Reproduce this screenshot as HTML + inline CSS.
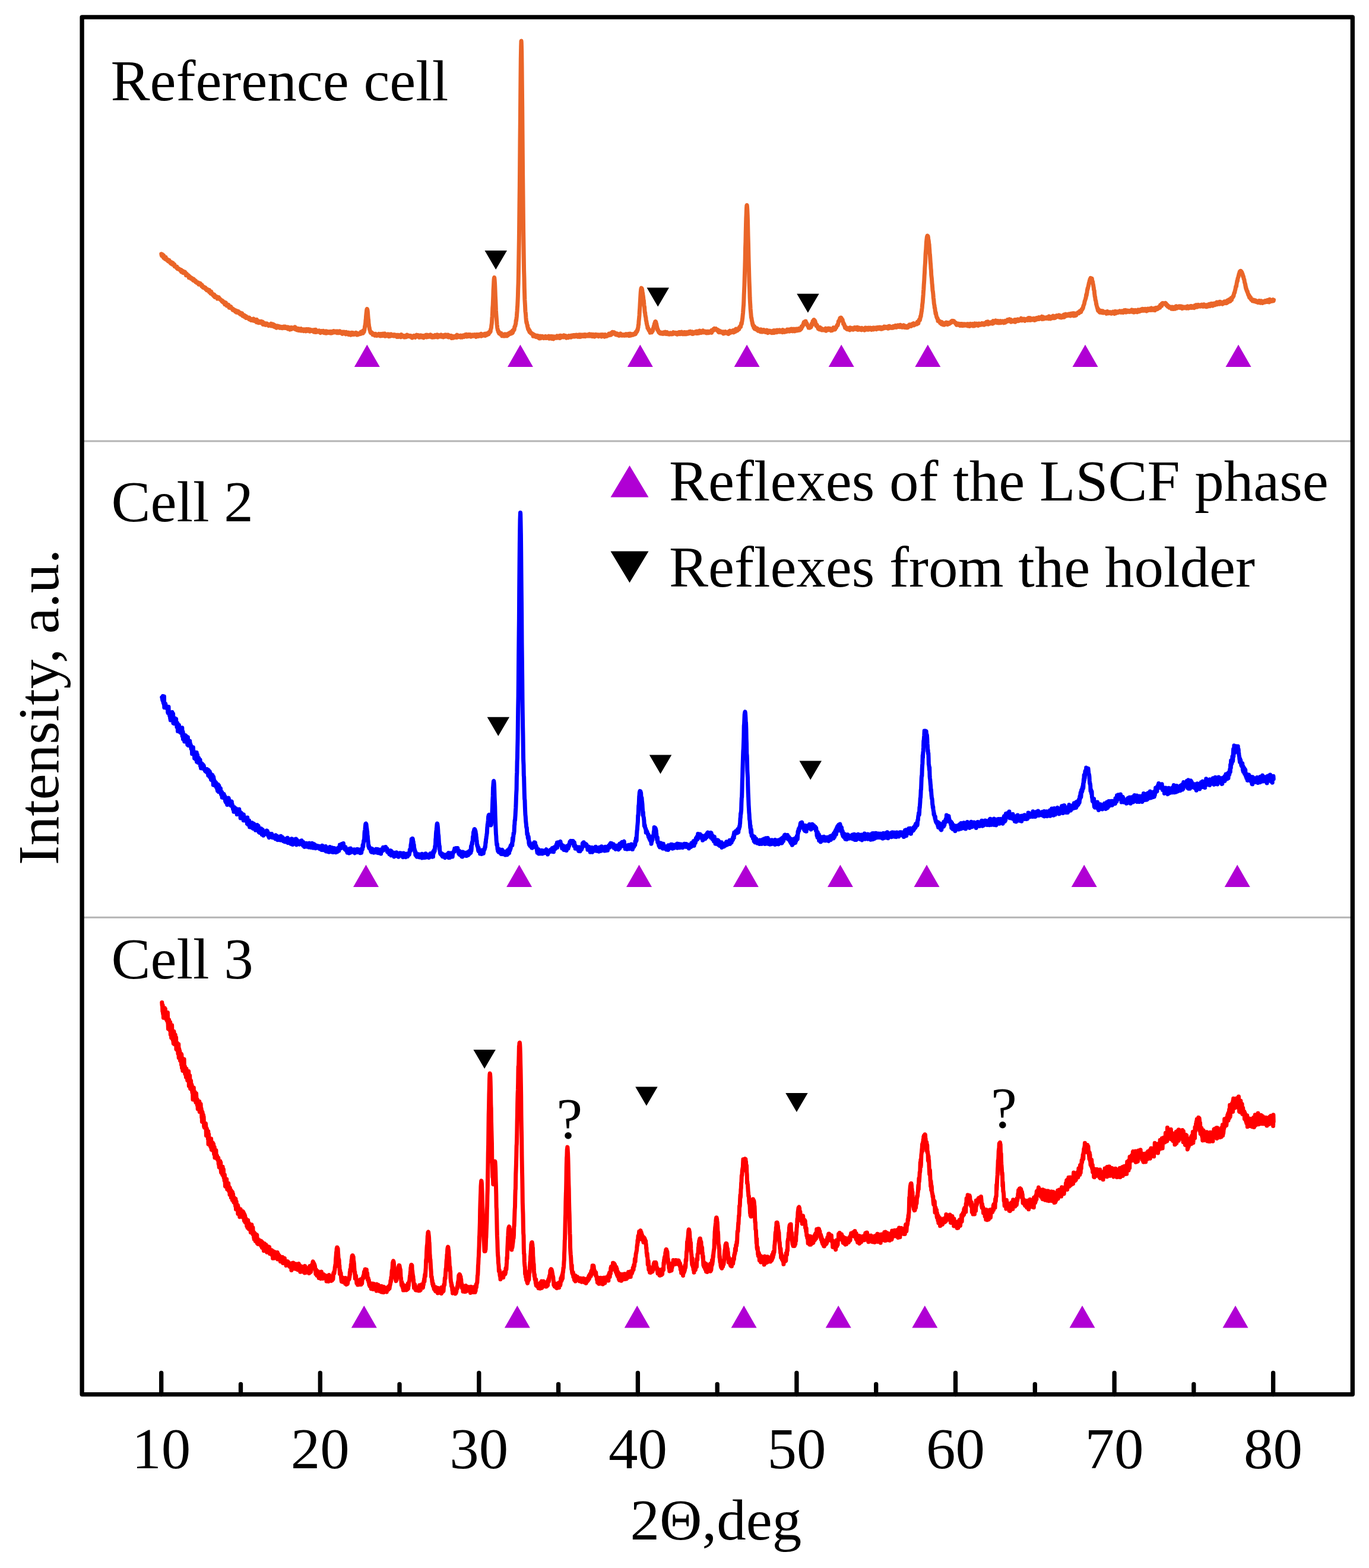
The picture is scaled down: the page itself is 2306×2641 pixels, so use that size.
<!DOCTYPE html>
<html lang="en"><head><meta charset="utf-8"><title>XRD patterns</title>
<style>
html,body{margin:0;padding:0;background:#fff}
body{width:2306px;height:2641px;overflow:hidden}
svg{display:block}
text{font-family:"Liberation Serif","Times New Roman",serif;font-size:99px;fill:#000}
.c{fill:none;stroke-linejoin:round;stroke-linecap:round}
</style></head><body>
<svg width="2306" height="2641" viewBox="0 0 2306 2641">
<rect width="2306" height="2641" fill="#fff"/>

<g stroke="#b4b4b4" stroke-width="3"><line x1="138.1" x2="2278.3" y1="742.9" y2="742.9"/><line x1="138.1" x2="2278.3" y1="1545.3" y2="1545.3"/></g>
<path class="c" transform="scale(.1)" stroke="#EA6528" stroke-width="70" d="M2718,4277l3,18 4,14 3,-8 3,-9 3,-2 4,-3 3,27 3,6 4,-24 3,19 3,22 4,-32 3,39 3,-1 3,0 4,-1 3,2 3,4 4,13 3,-25 3,-4 4,0 3,25 3,11 3,-15 4,14 3,1 3,12 4,-2 3,0 3,-9 4,6 3,15 3,-5 3,14 4,-17 3,19 3,-9 4,8 3,-18 3,26 4,-13 3,23 3,0 3,-13 4,24 3,3 3,5 4,-2 3,-13 3,20 4,-24 3,12 3,10 3,-17 4,30 3,-3 3,-5 4,-17 3,17 3,18 4,1 3,-13 3,-1 3,16 4,-9 3,-2 3,33 4,-12 3,6 3,-3 4,14 3,3 3,-9 3,0 4,3 3,16 3,-5 4,-11 3,28 3,-10 4,7 3,12 3,-6 3,5 4,-7 3,10 3,5 4,-2 3,-3 3,2 4,1 3,8 3,-5 3,12 4,-7 3,16 3,-6 4,-6 3,13 3,-13 4,34 3,-26 3,8 3,17 4,-17 3,-1 3,2 4,23 3,-20 3,30 4,-8 3,-5 3,15 3,-9 4,0 3,-7 3,0 4,19 3,-19 3,6 4,3 3,18 3,-11 3,14 4,27 3,-19 3,19 4,-13 3,-10 3,8 4,2 3,13 3,5 3,-2 4,-3 3,-1 3,6 4,-1 3,4 3,33 4,-11 3,-16 3,13 3,6 4,-1 3,-4 3,13 4,0 3,6 3,9 4,-14 3,10 3,-4 3,-2 4,6 3,10 3,-6 4,-1 3,5 3,11 4,15 3,1 3,-27 3,15 4,11 3,-7 3,5 4,-6 3,13 3,0 4,-5 3,16 3,8 3,-3 4,-14 3,17 3,7 4,6 3,3 3,0 4,-9 3,9 3,4 3,-4 4,4 3,-11 3,15 4,-5 3,5 3,20 4,-12 3,2 3,-6 3,-7 4,5 3,11 3,3 4,-14 3,14 3,9 4,-6 3,6 3,8 3,13 4,-6 3,14 3,-26 4,28 3,-11 3,14 4,12 3,-8 3,-2 3,14 4,-18 3,18 3,-4 4,3 3,-7 3,12 4,3 3,-1 3,6 3,-14 4,25 3,-9 3,8 4,-6 3,5 3,0 4,20 3,-17 3,3 3,8 4,-8 3,4 3,14 4,4 3,7 3,-1 4,-10 3,1 3,23 3,-30 4,26 3,8 3,7 4,5 3,0 3,11 4,-34 3,18 3,9 3,-23 4,17 3,22 3,-15 4,19 3,-1 3,8 4,-1 3,0 3,4 3,-12 4,28 3,-16 3,-3 4,15 3,-16 3,38 4,4 3,-8 3,-18 3,16 4,1 3,-5 3,5 4,10 3,-7 3,7 4,3 3,-11 3,12 3,1 4,22 3,-12 3,4 4,1 3,-1 3,3 4,0 3,-18 3,23 3,-5 4,6 3,-5 3,3 4,11 3,-2 3,7 4,4 3,0 3,4 3,-4 4,6 3,11 3,-5 4,10 3,-2 3,12 4,-17 3,15 3,8 3,-13 4,12 3,4 3,-2 4,13 3,-3 3,-3 4,13 3,-2 3,20 3,-34 4,20 3,0 3,4 4,-17 3,23 3,-4 4,16 3,-15 3,30 3,-15 4,-1 3,10 3,-15 4,7 3,19 3,-6 4,6 3,-20 3,11 3,-1 4,35 3,-15 3,16 4,-13 3,16 3,-14 4,3 3,6 3,4 3,-18 4,22 3,-7 3,4 4,7 3,1 3,5 4,13 3,3 3,8 3,-22 4,7 3,0 3,1 4,12 3,3 3,-6 4,4 3,13 3,-13 3,15 4,-9 3,6 3,16 4,-22 3,11 3,10 4,-9 3,14 3,10 3,-5 4,-12 3,-6 3,12 4,-5 3,0 3,17 4,2 3,-21 3,14 3,-3 4,19 3,-1 3,8 4,-7 3,7 3,4 4,-5 3,12 3,-25 3,30 4,-21 3,11 3,8 4,1 3,-13 3,16 4,-21 3,21 3,0 3,21 4,-16 3,-3 3,3 4,0 3,10 3,5 4,16 3,-27 3,21 3,-18 4,13 3,16 3,3 4,-1 3,-12 3,17 4,7 3,-27 3,10 3,8 4,4 3,2 3,-4 4,-3 3,13 3,-11 4,7 3,7 3,1 3,5 4,2 3,-1 3,10 4,-27 3,16 3,1 4,-2 3,3 3,6 3,-6 4,25 3,1 3,-22 4,16 3,0 3,-5 4,-2 3,8 3,-3 3,-5 4,15 3,-6 3,10 4,-23 3,6 3,-14 4,19 3,-7 3,18 3,5 4,-9 3,9 3,-15 4,-5 3,27 3,-3 4,-1 3,-10 3,15 3,-3 4,17 3,-43 3,12 4,22 3,0 3,-2 4,-4 3,-3 3,24 3,-4 4,-7 3,2 3,15 4,-26 3,0 3,11 4,-8 3,20 3,0 3,1 4,-8 3,-3 3,11 4,-23 3,6 3,7 4,-3 3,15 3,-10 3,20 4,-7 3,-14 3,-4 4,41 3,-14 3,2 4,-8 3,-3 3,23 3,-24 4,9 3,5 3,-8 4,4 3,1 3,2 4,21 3,-14 3,11 3,-18 4,4 3,0 3,-8 4,16 3,-13 3,3 4,13 3,3 3,-10 3,10 4,11 3,3 3,-5 4,-12 3,15 3,-15 4,0 3,12 3,-6 3,1 4,-13 3,5 3,6 4,1 3,0 3,-23 4,40 3,-14 3,-16 3,20 4,-12 3,-2 3,20 4,-27 3,3 3,2 4,4 3,29 3,-25 3,-4 4,14 3,7 3,7 4,-19 3,30 3,-16 4,-9 3,2 3,14 3,-3 4,-3 3,7 3,22 4,-6 3,-18 3,-1 4,18 3,-20 3,-6 3,9 4,-2 3,-1 3,13 4,-5 3,5 3,8 4,-8 3,-9 3,6 3,18 4,-19 3,-1 3,16 4,-13 3,0 3,11 4,-3 3,-5 3,1 3,15 4,-8 3,-11 3,3 4,19 3,-18 3,5 4,-1 3,-8 3,6 3,-12 4,7 3,14 3,-14 4,17 3,-13 3,3 4,-4 3,-10 3,20 3,4 4,-10 3,-3 3,-2 4,8 3,7 3,-1 4,-5 3,-2 3,2 3,-1 4,-8 3,32 3,-27 4,-1 3,25 3,-8 4,1 3,-9 3,6 3,9 4,14 3,-15 3,-4 4,6 3,-6 3,-7 4,-10 3,22 3,-19 3,26 4,-17 3,0 3,-8 4,1 3,3 3,10 4,-9 3,3 3,-4 3,10 4,-1 3,0 3,-15 4,3 3,-5 3,21 4,-28 3,37 3,-17 3,-3 4,10 3,-3 3,0 4,9 3,4 3,-9 4,22 3,-27 3,22 3,-4 4,-12 3,20 3,6 4,-28 3,22 3,-6 4,4 3,-19 3,23 3,6 4,-9 3,-9 3,3 4,7 3,-6 3,-12 4,2 3,-3 3,15 3,18 4,-5 3,-16 3,1 4,11 3,-2 3,6 4,-8 3,-8 3,10 3,12 4,-14 3,18 3,-29 4,6 3,6 3,-3 4,11 3,-6 3,4 3,8 4,-26 3,9 3,23 4,-24 3,-7 3,3 4,-3 3,10 3,4 3,0 4,4 3,-9 3,9 4,4 3,-26 3,5 4,14 3,-16 3,23 3,-17 4,0 3,8 3,22 4,-33 3,11 3,-6 4,14 3,-7 3,2 3,6 4,-6 3,3 3,5 4,-4 3,-2 3,-6 4,14 3,-3 3,-2 3,-5 4,2 3,-5 3,28 4,-12 3,14 3,-37 4,1 3,19 3,-4 3,-3 4,-1 3,4 3,-18 4,44 3,-25 3,1 4,12 3,-10 3,5 3,4 4,2 3,-2 3,6 4,1 3,-10 3,5 4,-10 3,14 3,-20 3,-1 4,7 3,13 3,-11 4,3 3,16 3,4 4,5 3,-9 3,-4 3,-2 4,-15 3,13 3,-3 4,12 3,-4 3,-14 4,7 3,9 3,-3 3,-8 4,16 3,-27 3,25 4,-13 3,-6 3,12 4,16 3,-27 3,15 3,2 4,-4 3,1 3,3 4,4 3,12 3,-36 4,24 3,6 3,-26 3,23 4,3 3,-14 3,6 4,-9 3,-6 3,6 4,-2 3,16 3,-16 3,13 4,2 3,3 3,-11 4,4 3,-13 3,-2 4,26 3,-5 3,-20 3,1 4,26 3,-14 3,8 4,3 3,-16 3,10 4,-21 3,11 3,8 3,5 4,-14 3,4 3,-14 4,17 3,-23 3,10 4,1 3,-8 3,3 3,3 4,13 3,-4 3,-2 4,0 3,1 3,-13 4,6 3,2 3,10 3,-4 4,2 3,-16 3,28 4,-22 3,-3 3,11 4,2 3,-4 3,16 3,-20 4,2 3,-9 3,27 4,-17 3,0 3,-14 4,10 3,3 3,9 3,6 4,2 3,-17 3,10 4,13 3,-8 3,3 4,5 3,-7 3,-3 3,21 4,-35 3,17 3,5 4,-5 3,0 3,-4 4,15 3,-28 3,7 3,-2 4,7 3,1 3,10 4,6 3,-18 3,9 4,20 3,-13 3,-23 3,24 4,-6 3,-1 3,4 4,5 3,-4 3,8 4,-6 3,6 3,-2 3,-14 4,-5 3,34 3,-27 4,-1 3,21 3,2 4,-12 3,15 3,-18 3,1 4,-9 3,34 3,-19 4,6 3,-24 3,21 4,-23 3,11 3,13 3,7 4,1 3,-17 3,-13 4,17 3,-9 3,12 4,-3 3,13 3,-12 3,-8 4,6 3,-8 3,-1 4,-1 3,3 3,-3 4,7 3,-15 3,11 3,11 4,-13 3,-2 3,29 4,-22 3,23 3,-18 4,7 3,4 3,-15 3,-1 4,9 3,-2 3,9 4,-13 3,-3 3,9 4,-11 3,-3 3,11 3,-8 4,-10 3,20 3,-12 4,-22 3,13 3,16 4,-12 3,-8 3,7 3,-11 4,2 3,5 3,-15 4,25 3,-43 3,3 4,21 3,-11 3,9 3,-20 4,-5 3,-17 3,-24 4,-34 3,-7 3,-19 4,-31 3,-44 3,-17 3,-49 4,-41 3,-27 3,-29 4,-19 3,-6 0,0 3,8 4,12 3,23 3,40 3,39 4,48 3,13 3,51 4,30 3,32 3,8 4,17 3,22 3,10 3,11 4,9 3,19 3,-4 4,6 3,12 3,-6 4,9 3,-15 3,18 3,2 4,-5 3,3 3,-1 4,22 3,-11 3,-4 4,2 3,-2 3,13 3,0 4,-8 3,2 3,11 4,-14 3,27 3,-13 4,-6 3,8 3,-19 3,23 4,-11 3,16 3,-1 4,-16 3,22 3,-17 4,0 3,13 3,-1 3,-15 4,8 3,-8 3,-3 4,3 3,10 3,-21 4,20 3,-10 3,5 3,15 4,-8 3,-8 3,21 4,-34 3,16 3,9 4,-23 3,18 3,-7 3,18 4,-8 3,-3 3,-21 4,12 3,19 3,-8 4,-16 3,5 3,-15 3,19 4,-11 3,-4 3,5 4,18 3,-22 3,-6 4,43 3,-25 3,1 3,-7 4,24 3,-4 3,1 4,-3 3,5 3,-4 4,-6 3,12 3,-7 3,-8 4,9 3,-23 3,21 4,-8 3,-9 3,21 4,14 3,-8 3,-7 3,-14 4,-6 3,10 3,-3 4,9 3,14 3,-9 4,-4 3,0 3,-20 3,22 4,-5 3,-9 3,6 4,-1 3,8 3,-11 4,17 3,-11 3,-4 3,19 4,-16 3,3 3,-10 4,23 3,-11 3,7 4,-8 3,6 3,-14 3,9 4,-7 3,10 3,11 4,-12 3,5 3,4 4,14 3,-8 3,-24 3,30 4,-30 3,1 3,17 4,13 3,-24 3,-4 4,8 3,4 3,12 3,-13 4,-5 3,-1 3,6 4,3 3,-14 3,8 4,9 3,15 3,-17 3,-26 4,17 3,10 3,-7 4,16 3,-13 3,8 4,1 3,-9 3,0 3,3 4,-7 3,12 3,-7 4,7 3,-10 3,26 4,-11 3,9 3,-21 3,3 4,8 3,-1 3,-1 4,5 3,-4 3,7 4,-17 3,14 3,-32 3,25 4,-6 3,-3 3,5 4,-1 3,4 3,-14 4,5 3,10 3,-9 3,1 4,10 3,-3 3,-7 4,-2 3,14 3,3 4,-1 3,-1 3,-7 3,-5 4,8 3,0 3,-5 4,9 3,20 3,-27 4,2 3,10 3,-14 3,4 4,-1 3,4 3,8 4,-3 3,-19 3,10 4,-7 3,12 3,-8 3,14 4,8 3,-22 3,4 4,5 3,-15 3,-8 4,18 3,-2 3,-22 3,17 4,-4 3,-2 3,7 4,-15 3,0 3,26 4,-6 3,-7 3,3 3,2 4,-3 3,23 3,-28 4,12 3,-16 3,18 4,11 3,-17 3,-6 3,-8 4,27 3,-17 3,9 4,6 3,-16 3,10 4,14 3,-21 3,6 3,3 4,-16 3,12 3,13 4,11 3,-29 3,9 4,3 3,-7 3,-3 3,3 4,-2 3,-5 3,5 4,1 3,-22 3,23 4,-4 3,2 3,-21 3,38 4,-20 3,-17 3,26 4,-5 3,-12 3,18 4,-8 3,-15 3,3 3,11 4,12 3,-21 3,19 4,-13 3,-8 3,20 4,-21 3,7 3,-19 3,18 4,12 3,-19 3,-2 4,31 3,-9 3,-13 4,7 3,20 3,-30 3,21 4,-4 3,-1 3,-4 4,8 3,-16 3,10 4,13 3,-15 3,3 3,7 4,-25 3,-5 3,34 4,-10 3,1 3,-10 4,5 3,7 3,-10 3,-5 4,-4 3,-7 3,-7 4,17 3,-1 3,26 4,-29 3,-6 3,30 3,-27 4,4 3,13 3,1 4,0 3,-3 3,-16 4,4 3,2 3,12 3,-9 4,14 3,-7 3,1 4,-25 3,25 3,-11 4,19 3,-10 3,10 3,-1 4,-12 3,-1 3,18 4,2 3,-21 3,-8 4,24 3,-24 3,14 3,-21 4,31 3,-7 3,-8 4,-10 3,-10 3,21 4,7 3,-5 3,-15 3,20 4,-5 3,-20 3,-1 4,7 3,22 3,-18 4,24 3,-5 3,-29 3,15 4,24 3,-21 3,8 4,-3 3,-6 3,-3 4,11 3,3 3,2 3,4 4,-18 3,3 3,18 4,-4 3,-20 3,10 4,32 3,-24 3,2 3,6 4,2 3,-19 3,7 4,22 3,-25 3,10 4,13 3,-16 3,-1 3,-9 4,0 3,18 3,-6 4,-5 3,-8 3,20 4,0 3,-17 3,-11 3,-3 4,32 3,0 3,-29 4,8 3,-22 3,12 4,28 3,-11 3,1 3,-12 4,-6 3,7 3,15 4,-7 3,3 3,0 4,-14 3,10 3,-10 3,-2 4,16 3,-18 3,29 4,-13 3,-16 3,8 4,-5 3,20 3,-4 3,-6 4,16 3,-17 3,-4 4,-7 3,-4 3,15 4,4 3,-10 3,3 3,-3 4,15 3,-15 3,8 4,-14 3,-7 3,-8 4,4 3,15 3,-15 3,21 4,-15 3,-15 3,21 4,-7 3,24 3,-12 4,-17 3,11 3,-15 3,-1 4,15 3,6 3,-10 4,16 3,-30 3,24 4,-3 3,-19 3,20 3,-8 4,14 3,-27 3,22 4,-10 3,17 3,7 4,-27 3,1 3,1 3,0 4,11 3,-16 3,-2 4,7 3,1 3,15 4,-20 3,0 3,13 3,0 4,-15 3,7 3,-10 4,22 3,-16 3,2 4,3 3,-5 3,10 3,9 4,-6 3,18 3,-20 4,-19 3,17 3,-6 4,15 3,-13 3,6 3,-18 4,6 3,8 3,-5 4,3 3,16 3,-29 4,0 3,25 3,-11 3,-9 4,11 3,5 3,-17 4,16 3,-11 3,15 4,-36 3,40 3,-20 3,13 4,-18 3,10 3,6 4,-10 3,-5 3,-4 4,0 3,16 3,-18 3,17 4,-7 3,-3 3,-5 4,3 3,-16 3,26 4,-10 3,17 3,-21 3,0 4,7 3,-4 3,-9 4,-10 3,11 3,0 4,12 3,-1 3,-20 3,16 4,-20 3,1 3,0 4,-8 3,14 3,4 4,-29 3,10 3,-8 3,1 4,-15 3,13 3,-12 4,-9 3,7 3,-38 4,-7 3,-8 3,-16 3,-34 4,-23 3,-27 3,-59 4,-50 3,-53 3,-88 4,-43 3,-78 3,-69 3,-109 4,-65 3,-66 3,-49 4,-26 1,-2 2,5 3,31 4,54 3,64 3,76 3,87 4,73 3,76 3,83 4,66 3,39 3,41 4,49 3,51 3,18 3,33 4,19 3,20 3,-3 4,15 3,16 3,-6 4,1 3,25 3,9 3,-20 4,17 3,2 3,1 4,-3 3,-2 3,-1 4,23 3,-8 3,8 3,-22 4,30 3,1 3,-5 4,20 3,-17 3,1 4,-10 3,4 3,13 3,0 4,10 3,-17 3,12 4,-13 3,8 3,-4 4,-16 3,30 3,-17 3,1 4,10 3,-14 3,2 4,-13 3,21 3,6 4,-13 3,15 3,2 3,-9 4,-12 3,9 3,-2 4,-7 3,8 3,-8 4,-19 3,8 3,2 3,-15 4,-4 3,14 3,2 4,-16 3,13 3,-16 4,-5 3,20 3,-10 3,-21 4,-1 3,15 3,-12 4,-3 3,-8 3,8 4,21 3,-42 3,28 3,-30 4,-8 3,15 3,-17 4,-7 3,6 3,1 4,-25 3,-24 3,-10 3,-2 4,-1 3,-19 3,-16 4,-8 3,-51 3,10 4,-31 3,-26 3,-26 3,-42 4,-48 3,-57 3,-35 4,-85 3,-72 3,-118 4,-104 3,-140 3,-181 3,-193 4,-246 3,-264 3,-293 4,-333 3,-353 3,-381 4,-377 3,-373 3,-354 3,-287 4,-204 3,-94 1,-4 2,33 4,142 3,246 3,309 4,376 3,395 3,372 3,362 4,365 3,312 3,283 4,259 3,209 3,201 4,128 3,161 3,99 3,105 4,65 3,55 3,75 4,26 3,28 3,52 4,43 3,28 3,18 3,-15 4,35 3,6 3,25 4,-9 3,37 3,6 4,21 3,9 3,-3 3,-10 4,29 3,-6 3,13 4,17 3,-26 3,21 4,-2 3,16 3,6 3,2 4,4 3,-9 3,5 4,8 3,6 3,-1 4,-6 3,9 3,7 3,-11 4,5 3,16 3,20 4,-19 3,-11 3,29 4,-9 3,-14 3,16 3,2 4,8 3,-18 3,22 4,-14 3,8 3,-13 4,26 3,-9 3,-10 3,14 4,4 3,4 3,0 4,-26 3,9 3,11 4,3 3,-13 3,24 3,-5 4,-21 3,6 3,25 4,-30 3,40 3,-4 4,-28 3,17 3,6 3,-24 4,-5 3,34 3,-17 4,-15 3,28 3,0 4,-7 3,-5 3,-9 3,-8 4,25 3,-3 3,-19 4,5 3,1 3,3 4,4 3,16 3,-15 3,11 4,-10 3,9 3,-12 4,11 3,-17 3,-10 4,28 3,-23 3,1 3,26 4,-18 3,4 3,2 4,2 3,5 3,-13 4,-7 3,20 3,-11 3,-4 4,12 3,1 3,-5 4,-22 3,42 3,-21 4,-14 3,21 3,8 3,-1 4,-7 3,1 3,-22 4,-3 3,35 3,-10 4,0 3,-18 3,33 3,-23 4,14 3,-23 3,-6 4,22 3,3 3,-17 4,34 3,-29 3,19 3,-4 4,-26 3,19 3,-14 4,10 3,-4 3,11 4,-18 3,13 3,1 3,3 4,-19 3,15 3,1 4,3 3,-32 3,1 4,0 3,15 3,-8 3,9 4,1 3,13 3,-1 4,-15 3,3 3,-17 4,12 3,3 3,-4 3,25 4,-42 3,15 3,5 4,8 3,-6 3,-21 4,6 3,14 3,-4 3,10 4,-6 3,-8 3,-2 4,11 3,-15 3,5 4,15 3,-16 3,9 3,-25 4,13 3,8 3,6 4,-6 3,2 3,-9 4,8 3,9 3,-17 3,-4 4,24 3,9 3,-4 4,-20 3,4 3,-2 4,10 3,2 3,-15 3,13 4,-2 3,11 3,-17 4,5 3,-21 3,13 4,10 3,-19 3,4 3,7 4,-4 3,-6 3,3 4,10 3,9 3,-6 4,-7 3,10 3,-30 3,26 4,-12 3,-3 3,-6 4,5 3,4 3,-12 4,-4 3,13 3,10 3,-4 4,-2 3,-19 3,2 4,0 3,23 3,-24 4,17 3,-4 3,-16 3,13 4,10 3,-7 3,-3 4,8 3,-24 3,10 4,6 3,8 3,6 3,-19 4,7 3,13 3,-1 4,-17 3,-3 3,6 4,7 3,-26 3,36 3,-17 4,12 3,5 3,-20 4,-11 3,-3 3,33 4,-23 3,5 3,-14 3,8 4,8 3,2 3,-5 4,-11 3,8 3,-1 4,15 3,-18 3,-7 3,17 4,-13 3,22 3,0 4,-17 3,0 3,10 4,-23 3,27 3,3 3,-11 4,-2 3,-7 3,-3 4,13 3,-2 3,-9 4,16 3,-14 3,13 3,-20 4,12 3,3 3,3 4,-13 3,2 3,1 4,10 3,-21 3,7 3,-16 4,34 3,-14 3,-5 4,3 3,9 3,-11 4,7 3,-17 3,3 3,25 4,-11 3,-16 3,18 4,7 3,7 3,-23 4,10 3,-10 3,-9 3,7 4,9 3,-5 3,3 4,-3 3,6 3,20 4,-17 3,5 3,9 3,-34 4,1 3,4 3,-5 4,24 3,-23 3,5 4,16 3,-18 3,11 3,6 4,-14 3,18 3,-5 4,-2 3,-6 3,-8 4,29 3,-25 3,3 3,2 4,0 3,7 3,-13 4,8 3,10 3,-20 4,10 3,-12 3,11 3,4 4,-11 3,28 3,-33 4,26 3,-13 3,5 4,-13 3,17 3,-2 3,-20 4,16 3,0 3,11 4,-20 3,20 3,-3 4,12 3,-28 3,24 3,-32 4,9 3,9 3,-8 4,19 3,-13 3,5 4,-2 3,6 3,-15 3,16 4,-13 3,5 3,1 4,-3 3,-14 3,1 4,-1 3,7 3,-1 3,-25 4,0 3,28 3,-20 4,15 3,-13 3,11 4,-3 3,-14 3,20 3,-1 4,-8 3,-26 3,8 4,10 3,2 3,-20 4,-16 3,9 3,11 3,-12 4,6 3,-6 3,0 1,0 3,0 3,3 3,-5 4,20 3,-3 3,-12 3,10 4,-6 3,4 3,18 4,-9 3,17 3,-16 4,12 3,-1 3,8 3,-14 4,9 3,1 3,-17 4,24 3,-5 3,-10 4,16 3,3 3,-13 3,10 4,9 3,-10 3,-2 4,-3 3,-7 3,20 4,-11 3,-8 3,-13 3,22 4,-6 3,5 3,2 4,-3 3,7 3,6 4,-14 3,7 3,-9 3,14 4,-10 3,-1 3,6 4,-3 3,-6 3,8 4,5 3,-8 3,-5 3,17 4,-11 3,-10 3,-1 4,7 3,13 3,0 4,-6 3,-19 3,7 3,17 4,-6 3,-6 3,6 4,-12 3,6 3,1 4,-13 3,18 3,-14 3,10 4,-16 3,24 3,7 4,-27 3,12 3,-16 4,28 3,-32 3,10 3,-1 4,22 3,-27 3,13 4,8 3,-8 3,-8 4,8 3,-8 3,11 3,-1 4,-4 3,7 3,-15 4,1 3,5 3,2 4,-11 3,8 3,-1 3,-7 4,-4 3,-5 3,15 4,-23 3,21 3,-22 4,-14 3,18 3,-9 3,-10 4,-2 3,-6 3,2 4,-26 3,-8 3,11 4,-20 3,-24 3,-3 3,-43 4,-2 3,-60 3,-27 4,-42 3,-34 3,-59 4,-56 3,-55 3,-54 3,-57 4,-66 3,-44 3,-33 4,-25 3,-7 0,0 3,2 4,5 3,7 3,11 3,24 4,34 3,2 3,32 4,20 3,25 3,38 4,5 3,39 3,38 3,26 4,12 3,61 3,32 4,-2 3,40 3,20 4,19 3,8 3,41 3,16 4,6 3,36 3,0 4,31 3,4 3,7 4,36 3,4 3,2 3,-7 4,13 3,16 3,-4 4,4 3,16 3,3 4,-12 3,24 3,-5 3,23 4,-19 3,0 3,-5 4,14 3,-10 3,4 4,8 3,2 3,-14 3,-8 4,-3 3,-14 3,18 4,-15 3,-27 3,-9 4,-5 3,11 3,-42 3,-1 4,-11 3,-24 3,-7 4,-3 3,-15 3,-12 4,-1 0,0 3,3 3,3 3,14 4,18 3,1 3,23 4,14 3,20 3,3 4,40 3,-4 3,-6 3,12 4,5 3,19 3,6 4,12 3,0 3,-7 4,5 3,13 3,3 3,-19 4,9 3,14 3,-14 4,8 3,-9 3,19 4,-14 3,-2 3,10 3,-6 4,4 3,10 3,-13 4,1 3,14 3,-16 4,0 3,11 3,-21 3,24 4,-13 3,-4 3,2 4,-3 3,15 3,-13 4,-14 3,14 3,14 3,-9 4,-3 3,-5 3,23 4,-17 3,12 3,-25 4,17 3,-6 3,7 3,4 4,-5 3,9 3,7 4,-9 3,-12 3,21 4,-16 3,7 3,11 3,-10 4,-2 3,-1 3,-10 4,8 3,-8 3,16 4,-9 3,4 3,10 3,-3 4,-6 3,5 3,-2 4,-8 3,6 3,6 4,-16 3,4 3,-19 3,7 4,10 3,-6 3,6 4,-5 3,1 3,1 4,-5 3,13 3,-14 3,8 4,12 3,-11 3,-7 4,1 3,11 3,2 4,-14 3,1 3,26 3,-28 4,24 3,-13 3,-9 4,4 3,-1 3,0 4,6 3,-21 3,28 3,-7 4,-13 3,-8 3,32 4,-33 3,19 3,2 4,-18 3,23 3,-27 3,-2 4,5 3,4 3,22 4,-26 3,31 3,-17 4,8 3,-5 3,-13 3,5 4,7 3,0 3,16 4,-29 3,-4 3,1 4,-1 3,11 3,5 3,16 4,-18 3,-7 3,7 4,19 3,-26 3,-4 4,13 3,2 3,0 3,-1 4,3 3,8 3,0 4,-9 3,-6 3,-13 4,2 3,-8 3,8 3,7 4,7 3,-21 3,26 4,-16 3,-17 3,22 4,-13 3,1 3,8 3,-10 4,11 3,1 3,10 4,-21 3,-3 3,35 4,-29 3,20 3,-15 3,-3 4,25 3,-13 3,-13 4,1 3,10 3,-9 4,7 3,-9 3,2 3,3 4,-4 3,-12 3,14 4,-11 3,5 3,-1 4,-6 3,30 3,-35 3,27 4,-25 3,7 3,14 4,-9 3,2 3,17 4,-13 3,6 3,-11 3,-1 4,-1 3,16 3,-39 4,26 3,1 3,-22 4,19 3,-5 3,-8 3,12 4,-14 3,26 3,-28 4,0 3,8 3,4 4,6 3,-3 3,-3 3,-22 4,17 3,4 3,10 4,-20 3,15 3,-8 4,-4 3,8 3,-2 3,4 4,-2 3,10 3,0 4,-19 3,26 3,-2 4,-5 3,-7 3,17 3,-23 4,7 3,-12 3,11 4,10 3,-16 3,12 4,-17 3,15 3,11 3,-19 4,2 3,12 3,-1 4,-11 3,2 3,-2 4,9 3,-4 3,-4 3,-11 4,-9 3,-5 3,21 4,16 3,-17 3,0 4,-12 3,2 3,-17 3,9 4,-16 3,14 3,-21 4,19 3,-13 3,3 4,-5 3,-18 3,1 3,12 4,-4 3,-1 3,0 0,0 4,1 3,-2 3,-2 4,5 3,1 3,4 3,7 4,4 3,7 3,-13 4,0 3,14 3,7 4,-2 3,2 3,19 3,-12 4,-13 3,8 3,23 4,-6 3,-21 3,7 4,14 3,-6 3,9 3,-15 4,11 3,4 3,4 4,-5 3,0 3,0 4,7 3,2 3,-14 3,0 4,9 3,-11 3,8 4,25 3,-16 3,-9 4,0 3,-1 3,-3 3,8 4,11 3,3 3,-1 4,-27 3,23 3,-10 4,10 3,-2 3,-3 3,-9 4,12 3,0 3,5 4,-5 3,-10 3,24 4,0 3,-20 3,-11 3,35 4,-7 3,-10 3,-25 4,32 3,-7 3,-19 4,-17 3,36 3,-22 3,7 4,5 3,3 3,-14 4,9 3,-5 3,-5 4,7 3,-8 3,-1 3,0 4,-15 3,9 3,-6 4,18 3,-23 3,33 4,-18 3,-3 3,-14 3,6 4,21 3,-18 3,-17 4,23 3,7 3,-23 4,2 3,15 3,-39 3,33 4,-20 3,9 3,7 4,-5 3,-5 3,6 4,-21 3,7 3,-11 3,9 4,-11 3,-7 3,-3 4,16 3,-31 3,0 4,-9 3,1 3,-12 3,0 4,-5 3,20 3,-23 4,-18 3,-22 3,1 4,8 3,-33 3,-5 3,-25 4,-26 3,-30 3,-31 4,-39 3,-46 3,-42 4,-47 3,-70 3,-95 3,-62 4,-96 3,-112 3,-98 4,-124 3,-117 3,-173 4,-109 3,-154 3,-119 3,-115 4,-97 3,-80 3,-45 3,-10 1,1 3,25 3,49 4,92 3,91 3,141 3,130 4,129 3,148 3,130 4,134 3,120 3,96 4,95 3,83 3,99 3,57 4,60 3,62 3,34 4,43 3,36 3,39 4,4 3,20 3,23 3,15 4,12 3,27 3,-2 4,32 3,0 3,-3 4,6 3,14 3,21 3,-13 4,-10 3,15 3,26 4,-28 3,10 3,7 4,-2 3,22 3,-17 3,8 4,9 3,3 3,-6 4,6 3,0 3,-18 4,30 3,-3 3,-2 3,12 4,-26 3,32 3,-17 4,-3 3,1 3,14 4,-9 3,14 3,-21 3,27 4,-14 3,21 3,-14 4,-8 3,2 3,-17 4,17 3,-10 3,6 3,29 4,-32 3,16 3,0 4,-8 3,2 3,-5 4,25 3,-12 3,6 3,-28 4,16 3,-9 3,23 4,-13 3,-4 3,9 4,2 3,-2 3,18 3,-6 4,-7 3,4 3,-9 4,-10 3,15 3,-21 4,32 3,-14 3,-15 3,21 4,22 3,-29 3,5 4,7 3,-17 3,28 4,-19 3,8 3,5 3,-10 4,9 3,-23 3,2 4,16 3,-9 3,0 4,7 3,6 3,7 3,6 4,-5 3,-5 3,-18 4,-1 3,-3 3,8 4,6 3,18 3,-28 3,13 4,-12 3,4 3,-17 4,39 3,-20 3,-2 4,0 3,-16 3,23 3,-5 4,4 3,7 3,-9 4,-14 3,1 3,-12 4,35 3,-36 3,26 3,-22 4,11 3,-3 3,-11 4,20 3,-2 3,-7 4,8 3,9 3,-29 3,6 4,-8 3,6 3,5 4,0 3,4 3,16 4,-7 3,-13 3,10 3,-11 4,17 3,-14 3,3 4,-13 3,9 3,26 4,-43 3,22 3,-5 3,2 4,18 3,-20 3,-8 4,14 3,1 3,8 4,7 3,-7 3,1 3,-15 4,-3 3,11 3,2 4,3 3,-4 3,-12 4,-3 3,19 3,-5 3,-29 4,24 3,-2 3,-14 4,-5 3,21 3,-5 4,-19 3,13 3,12 3,-17 4,22 3,-32 3,28 4,-16 3,-7 3,6 4,12 3,-22 3,25 3,-5 4,-29 3,25 3,9 4,-20 3,-14 3,30 4,1 3,5 3,-26 3,-1 4,4 3,19 3,-23 4,10 3,-19 3,32 4,-16 3,1 3,21 3,-12 4,-4 3,-6 3,-3 4,-13 3,24 3,-11 4,0 3,-14 3,29 3,-11 4,0 3,-6 3,10 4,4 3,-3 3,-18 4,-7 3,17 3,5 3,-27 4,11 3,3 3,5 4,9 3,-18 3,12 4,-15 3,10 3,-20 3,3 4,6 3,-14 3,-26 4,13 3,2 3,-10 4,-18 3,-1 3,6 3,-6 4,-11 3,-20 3,-11 4,24 3,-39 3,14 4,-15 3,-4 3,-5 3,-3 2,0 2,0 3,1 3,5 4,-10 3,30 3,-6 4,5 3,-1 3,15 3,-6 4,10 3,10 3,13 4,5 3,-2 3,6 4,16 3,-11 3,26 3,-6 4,-12 3,-7 3,16 4,10 3,-11 3,-2 4,-18 3,21 3,-23 3,24 4,-20 3,11 3,-16 4,-33 3,12 3,0 4,1 3,-24 3,-2 3,-30 4,9 3,-12 3,-5 4,-12 3,-5 3,-2 0,0 4,4 3,7 3,11 3,-5 4,2 3,10 3,7 4,24 3,1 3,6 4,33 3,-19 3,19 3,-2 4,-6 3,-1 3,16 4,15 3,5 3,12 4,-4 3,16 3,-23 3,3 4,18 3,-8 3,15 4,7 3,-11 3,-6 4,-17 3,21 3,6 3,-16 4,19 3,-1 3,0 4,9 3,7 3,-26 4,9 3,5 3,13 3,-14 4,6 3,-5 3,2 4,1 3,9 3,-5 4,4 3,-7 3,-4 3,3 4,12 3,-9 3,-16 4,21 3,-16 3,-10 4,22 3,18 3,-8 3,-3 4,-14 3,-3 3,1 4,6 3,-4 3,8 4,1 3,-12 3,14 3,-27 4,15 3,0 3,-2 4,5 3,-1 3,5 4,1 3,-22 3,27 3,-5 4,8 3,2 3,3 4,-6 3,-13 3,15 4,-15 3,-5 3,4 3,18 4,-9 3,-10 3,-3 4,-10 3,18 3,-33 4,22 3,-6 3,-4 3,14 4,-13 3,16 3,-30 4,33 3,-30 3,11 4,-16 3,-3 3,3 3,3 4,-17 3,-7 3,-3 4,-13 3,-6 3,8 4,-1 3,-8 3,-17 3,-6 4,-33 3,4 3,-6 4,-1 3,-9 3,-15 4,-7 3,10 3,-32 3,0 4,-6 3,-2 3,-1 0,0 4,0 3,10 3,-3 4,6 3,21 3,9 3,6 4,8 3,-22 3,24 4,11 3,5 3,32 4,3 3,-10 3,2 3,6 4,10 3,21 3,11 4,-7 3,27 3,-13 4,10 3,-11 3,12 3,-7 4,16 3,10 3,-8 4,3 3,14 3,-15 4,17 3,-7 3,-9 3,-2 4,11 3,8 3,-11 4,-11 3,8 3,15 4,-7 3,-5 3,1 3,21 4,-42 3,9 3,24 4,-4 3,-3 3,-13 4,18 3,-18 3,2 3,-3 4,14 3,-18 3,17 4,-11 3,12 3,-12 4,21 3,-20 3,1 3,-5 4,-1 3,5 3,2 4,-19 3,9 3,8 4,-9 3,7 3,9 3,1 4,3 3,-6 3,8 4,-31 3,11 3,-3 4,4 3,14 3,-8 3,-19 4,40 3,-10 3,-8 4,-5 3,-4 3,-1 4,0 3,19 3,-22 3,22 4,6 3,-13 3,13 4,-5 3,-7 3,0 4,18 3,1 3,-31 3,14 4,-17 3,12 3,17 4,-11 3,-9 3,15 4,-1 3,-1 3,4 3,-8 4,0 3,3 3,1 4,16 3,-33 3,1 4,0 3,-10 3,8 3,-2 4,19 3,2 3,-24 4,13 3,-13 3,6 4,9 3,-5 3,1 3,17 4,-10 3,-12 3,0 4,-7 3,14 3,15 4,-2 3,-13 3,-8 3,5 4,-9 3,-5 3,0 4,22 3,-9 3,-8 4,23 3,0 3,6 3,-13 4,-9 3,14 3,-19 4,7 3,15 3,-24 4,12 3,-6 3,-9 3,30 4,-31 3,5 3,5 4,11 3,-7 3,-12 4,-1 3,15 3,-8 3,-2 4,2 3,3 3,-6 4,15 3,7 3,-29 4,5 3,11 3,-4 3,-9 4,-4 3,2 3,14 4,2 3,-19 3,12 4,-14 3,24 3,-16 3,-2 4,-5 3,16 3,4 4,-24 3,25 3,-19 4,4 3,-5 3,18 3,9 4,-27 3,17 3,-13 4,20 3,-15 3,-9 4,21 3,-14 3,1 3,5 4,-14 3,8 3,0 4,-1 3,-22 3,17 4,9 3,-1 3,-13 3,5 4,-7 3,-1 3,-6 4,13 3,6 3,-5 4,5 3,-6 3,2 3,-3 4,1 3,-13 3,8 4,-8 3,-1 3,31 4,-27 3,-3 3,-11 3,20 4,1 3,-21 3,19 4,7 3,-16 3,20 4,-10 3,5 3,-13 3,10 4,4 3,2 3,-14 4,0 3,18 3,-18 4,0 3,5 3,-10 3,21 4,-27 3,8 3,12 4,-6 3,-11 3,17 4,-3 3,-3 3,-11 3,11 4,-24 3,28 3,-3 4,-26 3,2 3,4 4,8 3,16 3,-20 3,14 4,-8 3,-6 3,-10 4,19 3,-5 3,-19 4,6 3,20 3,-21 3,18 4,-6 3,1 3,-7 4,4 3,12 3,-5 4,-29 3,13 3,21 3,-25 4,9 3,-3 3,21 4,-23 3,16 3,0 4,12 3,-12 3,-4 3,2 4,-3 3,0 3,10 4,-28 3,8 3,17 4,12 3,-14 3,-4 3,1 4,-10 3,17 3,9 4,-3 3,-1 3,7 4,-14 3,8 3,-5 3,-10 4,6 3,2 3,15 4,-13 3,-2 3,11 4,-30 3,-2 3,14 3,4 4,-4 3,1 3,-3 4,-28 3,20 3,-11 4,17 3,-3 3,-19 3,5 4,-8 3,26 3,-14 4,10 3,-6 3,-12 4,2 3,-15 3,11 3,-3 4,-7 3,-8 3,21 4,-14 3,-13 3,18 4,14 3,-1 3,-7 3,-11 4,6 3,3 3,-14 4,-1 3,1 3,4 4,-1 3,-8 3,10 3,-4 4,4 3,-24 3,25 4,-38 3,20 3,1 4,1 3,-7 3,10 3,-27 4,-18 3,-11 3,11 4,-5 3,-19 3,16 4,-7 3,-19 3,-11 3,-27 4,4 3,-8 3,-32 4,-18 3,-28 3,-7 4,-40 3,-15 3,-44 3,-25 4,-27 3,-45 3,-37 4,-48 3,-56 3,-26 4,-79 3,-38 3,-46 3,-67 4,-52 3,-75 3,-45 4,-53 3,-71 3,-75 4,-51 3,-30 3,-59 3,-55 4,-38 3,-27 3,-24 4,-14 3,-8 1,0 2,2 4,3 3,5 3,17 3,32 4,15 3,24 3,32 4,17 3,56 3,29 4,68 3,16 3,43 3,48 4,57 3,27 3,57 4,33 3,76 3,29 4,32 3,39 3,47 3,20 4,54 3,50 3,5 4,35 3,32 3,47 4,21 3,35 3,38 3,16 4,16 3,38 3,-4 4,28 3,33 3,8 4,37 3,-21 3,19 3,23 4,13 3,20 3,5 4,12 3,8 3,-10 4,15 3,5 3,32 3,-14 4,15 3,-8 3,9 4,7 3,-10 3,5 4,14 3,4 3,9 3,-14 4,17 3,4 3,-12 4,-1 3,2 3,13 4,-23 3,37 3,-34 3,14 4,5 3,6 3,-6 4,-6 3,11 3,21 4,-18 3,12 3,-20 3,15 4,12 3,-15 3,-12 4,21 3,1 3,-2 4,-14 3,1 3,-3 3,-1 4,-17 3,28 3,-8 4,-15 3,23 3,-23 4,21 3,2 3,7 3,-30 4,13 3,5 3,-14 4,16 3,-14 3,15 4,-11 3,7 3,-6 3,-14 4,6 3,0 3,-3 4,4 3,-8 3,3 4,-20 3,18 3,-11 3,-10 4,1 3,-8 3,1 4,1 3,-1 0,0 3,-1 4,1 3,9 3,2 3,4 4,-12 3,11 3,9 4,5 3,-7 3,6 4,8 3,-8 3,1 3,20 4,-3 3,-11 3,27 4,6 3,-8 3,-6 4,6 3,5 3,-8 3,10 4,-11 3,8 3,-11 4,9 3,2 3,-17 4,22 3,3 3,4 3,-1 4,-5 3,-12 3,24 4,-16 3,-15 3,8 4,7 3,5 3,-2 3,12 4,-29 3,12 3,-12 4,2 3,21 3,-10 4,17 3,-6 3,-4 3,-2 4,-16 3,2 3,3 4,-4 3,5 3,19 4,-14 3,-7 3,-1 3,6 4,13 3,-12 3,-4 4,18 3,-17 3,-5 4,4 3,1 3,-3 3,12 4,15 3,-18 3,-15 4,22 3,2 3,-14 4,-1 3,17 3,13 3,-26 4,25 3,-4 3,-13 4,-8 3,-15 3,21 4,-14 3,22 3,-16 3,13 4,-17 3,12 3,-11 4,12 3,-21 3,6 4,-1 3,7 3,23 3,-20 4,-6 3,-4 3,30 4,0 3,-21 3,-12 4,-8 3,29 3,4 3,-23 4,9 3,4 3,2 4,-17 3,5 3,-2 4,-8 3,18 3,-11 3,21 4,-12 3,-8 3,2 4,-4 3,26 3,-25 4,-7 3,5 3,-2 3,-3 4,15 3,-3 3,-1 4,7 3,1 3,-14 4,16 3,-8 3,-5 3,5 4,-3 3,-13 3,11 4,-16 3,23 3,-17 4,12 3,0 3,-12 3,20 4,-17 3,7 3,-11 4,15 3,6 3,-12 4,0 3,-14 3,9 3,-8 4,18 3,-22 3,11 4,-5 3,12 3,-9 4,-26 3,32 3,-24 3,18 4,-26 3,17 3,5 4,-28 3,7 3,37 4,-25 3,21 3,-16 3,-9 4,2 3,0 3,2 4,7 3,-7 3,13 4,-13 3,-9 3,12 3,-8 4,13 3,-9 3,-8 4,9 3,-12 3,6 4,-12 3,33 3,-26 3,-8 4,-12 3,35 3,2 4,-14 3,-11 3,8 4,-8 3,-4 3,13 3,2 4,-16 3,18 3,-15 4,-18 3,8 3,20 4,-5 3,7 3,-4 3,8 4,-24 3,18 3,12 4,-24 3,-9 3,12 4,6 3,2 3,-2 3,17 4,-31 3,2 3,14 4,-12 3,1 3,6 4,16 3,-23 3,-7 3,18 4,1 3,11 3,-16 4,0 3,-2 3,3 4,-8 3,8 3,-12 3,19 4,-7 3,4 3,-10 4,6 3,-6 3,24 4,-13 3,-9 3,7 3,0 4,-6 3,-14 3,29 4,-20 3,-4 3,-2 4,11 3,-12 3,7 3,-4 4,1 3,4 3,-17 4,-12 3,11 3,5 4,2 3,-1 3,-15 3,5 4,1 3,-13 3,-2 4,31 3,-26 3,12 4,-6 3,6 3,0 3,-5 4,-5 3,12 3,26 4,-15 3,-12 3,15 4,6 3,-21 3,9 3,7 4,-7 3,-1 3,11 4,-8 3,-2 3,0 4,7 3,4 3,-13 3,17 4,-35 3,22 3,5 4,11 3,-5 3,-33 4,16 3,1 3,-15 3,0 4,4 3,1 3,10 4,-4 3,-18 3,7 4,-9 3,29 3,-18 3,1 4,3 3,-7 3,18 4,-10 3,3 3,-11 4,7 3,-13 3,13 3,-6 4,7 3,-16 3,6 4,-23 3,7 3,14 4,-11 3,9 3,19 3,-27 4,18 3,-17 3,7 4,5 3,-7 3,-2 4,15 3,4 3,-26 3,8 4,10 3,11 3,6 4,-23 3,13 3,2 4,-19 3,5 3,-5 3,12 4,-10 3,8 3,-14 4,-4 3,13 3,-4 4,17 3,-10 3,7 3,-5 4,0 3,-31 3,14 4,0 3,7 3,3 4,6 3,-7 3,-23 3,38 4,-17 3,3 3,-6 4,12 3,-3 3,-19 4,9 3,9 3,0 3,5 4,-15 3,5 3,-4 4,3 3,-7 3,15 4,-21 3,12 3,-12 3,16 4,-4 3,20 3,-27 4,26 3,-25 3,12 4,-2 3,-18 3,12 3,9 4,-22 3,24 3,-29 4,19 3,-13 3,-1 4,16 3,0 3,-3 3,-10 4,8 3,-7 3,10 4,-29 3,21 3,9 4,-16 3,-2 3,-6 3,11 4,-5 3,10 3,-20 4,14 3,-10 3,-9 4,4 3,-9 3,-4 3,14 4,29 3,-29 3,10 4,-7 3,-8 3,16 4,-19 3,27 3,-20 3,27 4,-8 3,-6 3,-3 4,-2 3,1 3,5 4,2 3,-4 3,-6 3,6 4,-10 3,17 3,-18 4,14 3,-15 3,10 4,-5 3,2 3,6 3,-14 4,-5 3,7 3,12 4,9 3,-25 3,-15 4,11 3,19 3,-3 3,9 4,-6 3,10 3,-8 4,-5 3,14 3,-15 4,-3 3,9 3,-24 3,6 4,0 3,8 3,-2 4,-18 3,27 3,-7 4,-30 3,27 3,-16 3,-4 4,1 3,29 3,-28 4,14 3,-5 3,18 4,-19 3,-10 3,15 3,6 4,-15 3,8 3,-20 4,-4 3,24 3,-11 4,6 3,-12 3,-4 3,5 4,0 3,2 3,-1 4,-3 3,12 3,-14 4,-12 3,23 3,13 3,-3 4,-2 3,-12 3,-5 4,-5 3,15 3,0 4,11 3,5 3,-28 3,9 4,-4 3,11 3,0 4,-7 3,8 3,-15 4,21 3,-7 3,1 3,-1 4,-13 3,-24 3,43 4,-37 3,6 3,20 4,-15 3,-1 3,9 3,-32 4,26 3,-26 3,13 4,17 3,-10 3,-1 4,-16 3,14 3,-10 3,0 4,18 3,-13 3,6 4,-9 3,13 3,-26 4,4 3,9 3,-14 3,17 4,2 3,-7 3,4 4,-3 3,20 3,-16 4,-23 3,23 3,-23 3,28 4,3 3,-32 3,15 4,-6 3,2 3,-3 4,14 3,-3 3,-10 3,-14 4,21 3,-6 3,29 4,-22 3,7 3,-13 4,-14 3,19 3,-16 3,29 4,-8 3,12 3,-23 4,1 3,18 3,-14 4,-5 3,-1 3,-9 3,-6 4,7 3,-7 3,-8 4,3 3,-1 3,-11 4,12 3,7 3,-20 3,10 4,-9 3,-6 3,7 4,-20 3,17 3,-12 4,-3 3,2 3,13 3,-23 4,3 3,-17 3,-10 4,3 3,3 3,-10 4,-13 3,9 3,-22 3,7 4,-32 3,-2 3,-13 4,-7 3,-7 3,-11 4,-23 3,-18 3,-4 3,-12 4,-9 3,-10 3,-18 4,-2 3,-27 3,-26 4,14 3,-18 3,-28 3,-2 4,-47 3,2 3,-29 4,4 3,-18 3,-13 4,-15 3,-19 3,-11 3,-20 4,-2 3,-13 3,-23 4,19 3,-40 3,0 4,-13 3,-9 3,10 3,2 4,-4 3,-1 0,0 3,1 4,2 3,-1 3,25 4,16 3,6 3,5 3,29 4,16 3,15 3,23 4,18 3,36 3,5 4,11 3,48 3,18 3,30 4,7 3,28 3,28 4,3 3,11 3,21 4,34 3,-5 3,22 3,12 4,18 3,5 3,16 4,-8 3,34 3,12 4,-14 3,1 3,-7 3,29 4,-17 3,23 3,9 4,-3 3,8 3,-27 4,-3 3,32 3,-11 3,3 4,-11 3,0 3,0 4,-7 3,26 3,3 4,-5 3,4 3,-12 3,-15 4,11 3,21 3,-2 4,-15 3,6 3,10 4,-10 3,-9 3,2 3,10 4,-9 3,12 3,-9 4,7 3,-9 3,8 4,3 3,1 3,2 3,15 4,-17 3,-6 3,5 4,-20 3,14 3,-3 4,18 3,-8 3,12 3,-10 4,-9 3,9 3,-10 4,12 3,2 3,-7 4,-3 3,-5 3,16 3,-16 4,23 3,0 3,-10 4,4 3,8 3,-8 4,-6 3,-4 3,5 3,2 4,-2 3,4 3,-24 4,6 3,0 3,12 4,-9 3,1 3,19 3,6 4,-20 3,-9 3,-2 4,10 3,-19 3,21 4,-14 3,26 3,-22 3,4 4,-8 3,20 3,-24 4,15 3,-5 3,4 4,-1 3,0 3,4 3,-3 4,-2 3,-7 3,-5 4,1 3,0 3,-11 4,16 3,-3 3,1 3,6 4,4 3,-14 3,0 4,-1 3,17 3,-14 4,-10 3,5 3,18 3,-6 4,-5 3,2 3,-15 4,6 3,22 3,-24 4,7 3,9 3,-17 3,12 4,-27 3,17 3,-6 4,-1 3,1 3,4 4,-18 3,29 3,-17 3,25 4,-14 3,0 3,9 4,-16 3,12 3,-22 4,21 3,-17 3,13 3,5 4,-4 3,-11 3,15 4,-18 3,13 3,-4 4,8 3,3 3,-12 3,-8 4,0 3,4 3,0 4,1 3,1 3,-6 4,-3 3,-11 3,15 3,19 4,-27 3,10 3,-5 4,-8 3,15 3,-2 4,6 3,12 3,-29 3,36 4,-16 3,-2 3,3 4,-5 3,10 3,-22 4,-5 3,3 3,11 3,2 4,-7 3,19 3,-6 4,-1 3,0 3,-4 4,15 3,-30 3,25 3,-3 4,-30 3,15 3,3 4,12 3,-13 3,0 4,-5 3,2 3,14 3,-17 4,-6 3,5 3,0 4,-14 3,8 3,7 4,2 3,-5 3,9 3,-19 4,12 3,-2 3,-23 4,30 3,-6 3,-2 4,5 3,-20 3,-4 3,1 4,6 3,20 3,-5 4,-8 3,-5 3,12 4,-24 3,28 3,-17 3,10 4,-6 3,-11 3,18 4,15 3,-21 3,-3 4,-7 3,7 3,10 3,-27 4,21 3,-17 3,18 4,5 3,-15 3,-11 4,9 3,12 3,-14 3,0 4,-1 3,15 3,-9 4,-1 3,-15 3,28 4,-5 3,-23 3,-7 3,18 4,-2 3,9 3,-7 4,16 3,-3 3,-13 4,0 3,15 3,-13 3,0 4,4 3,1 3,9 4,-31 3,10 3,-2 4,27 3,-13 3,-7 3,10 4,-33 3,18 3,-2 4,-16 3,16 3,-10 4,1 3,14 3,1 3,-11 4,2 3,-14 3,14 4,-5 3,-14 3,-8 4,18 3,-15 3,1 3,8 4,-13 3,15 3,-22 4,-24 3,28 3,-16 4,-18 3,13 3,-7 3,-4 4,18 3,-38 3,7 4,-10 3,-5 3,12 4,2 3,-1 3,-6 3,-5 4,7 3,0 1,0 2,0 4,1 3,0 3,-7 4,-1 3,3 3,-1 3,14 4,-20 3,15 3,6 4,-8 3,23 3,-3 4,9 3,-3 3,-10 3,4 4,21 3,-14 3,21 4,-4 3,-6 3,6 4,10 3,-5 3,-3 3,18 4,-6 3,7 3,-8 4,6 3,-7 3,0 4,3 3,-4 3,18 3,-2 4,13 3,-5 3,-18 4,14 3,4 3,-27 4,18 3,2 3,-2 3,18 4,-19 3,14 3,-20 4,10 3,-3 3,13 4,-19 3,-9 3,31 3,-36 4,19 3,-10 3,6 4,4 3,-28 3,29 4,-10 3,10 3,-12 3,16 4,-12 3,-12 3,12 4,-1 3,-7 3,-9 4,-1 3,2 3,1 3,0 4,-4 3,5 3,-3 4,22 3,-23 3,8 4,-11 3,26 3,-14 3,11 4,-21 3,9 3,-8 4,27 3,8 3,-23 4,9 3,-6 3,16 3,-19 4,8 3,-12 3,7 4,1 3,11 3,-6 4,-9 3,10 3,-2 3,-11 4,4 3,10 3,-11 4,-3 3,19 3,-14 4,-1 3,18 3,-23 3,8 4,-16 3,20 3,-19 4,-3 3,16 3,1 4,17 3,-15 3,-7 3,1 4,-1 3,10 3,-11 4,0 3,2 3,12 4,-13 3,6 3,-22 3,21 4,5 3,-19 3,-6 4,29 3,-7 3,-22 4,12 3,3 3,9 3,-1 4,-3 3,5 3,-18 4,4 3,-7 3,12 4,14 3,-20 3,-8 3,-12 4,28 3,-2 3,3 4,-31 3,21 3,-21 4,-7 3,17 3,-2 3,0 4,3 3,2 3,14 4,-24 3,-4 3,-1 4,10 3,-18 3,26 3,-18 4,3 3,-3 3,10 4,-11 3,7 3,9 4,4 3,1 3,-19 3,9 4,-16 3,15 3,-4 4,-4 3,13 3,2 4,-27 3,18 3,-7 3,8 4,-9 3,6 3,15 4,-8 3,-22 3,30 4,-35 3,9 3,4 3,7 4,5 3,-2 3,-1 4,-1 3,-3 3,9 4,-12 3,25 3,-30 3,7 4,23 3,-14 3,-14 4,18 3,0 3,-8 4,-1 3,14 3,-25 3,12 4,-3 3,-20 3,17 4,-10 3,13 3,2 4,9 3,-26 3,20 3,-33 4,5 3,28 3,-21 4,7 3,-10 3,-13 4,27 3,-16 3,15 3,-11 4,9 3,13 3,-20 4,1 3,-18 3,20 4,-22 3,5 3,2 3,6 4,-15 3,19 3,-21 4,29 3,-16 3,-4 4,1 3,-4 3,3 3,-16 4,15 3,8 3,-35 4,2 3,36 3,-14 4,-16 3,1 3,0 3,-3 4,17 3,-13 3,-6 4,-5 3,14 3,5 4,14 3,-38 3,21 3,-17 4,29 3,-32 3,21 4,6 3,-12 3,-4 4,11 3,9 3,-5 3,-3 4,16 3,-18 3,0 4,-12 3,7 3,8 4,-15 3,4 3,6 3,-9 4,-15 3,20 3,6 4,-12 3,5 3,-20 4,23 3,-15 3,3 3,-10 4,24 3,-15 3,18 4,-28 3,8 3,-2 4,-23 3,10 3,0 3,19 4,-15 3,-13 3,11 4,-25 3,19 3,-3 4,11 3,-16 3,-19 3,21 4,14 3,-32 3,5 4,-12 3,6 3,-21 4,24 3,6 3,-37 3,9 4,-14 3,0 3,4 4,-9 3,1 3,-19 4,-9 3,11 3,-19 3,-17 4,-17 3,0 3,-4 4,-15 3,-18 3,-11 4,-12 3,-21 3,-14 3,-19 4,-4 3,6 3,-27 4,-26 3,-12 3,-25 4,6 3,-7 3,-35 3,-13 4,-8 3,-8 3,-14 4,-18 3,-6 3,-20 4,-6 3,1 3,-26 3,-6 4,1 3,-9 3,-1 3,-1 1,0 3,1 3,2 4,6 3,6 3,2 3,4 4,12 3,8 3,18 4,-5 3,13 3,26 4,5 3,-7 3,21 3,15 4,15 3,1 3,9 4,38 3,5 3,16 4,4 3,30 3,-4 3,39 4,-9 3,32 3,-4 4,11 3,21 3,-3 4,15 3,14 3,-14 3,26 4,4 3,19 3,-5 4,20 3,-6 3,3 4,12 3,26 3,-22 3,10 4,18 3,-13 3,26 4,-9 3,4 3,-6 4,15 3,18 3,-10 3,9 4,5 3,6 3,-12 4,16 3,10 3,-11 4,-8 3,10 3,-11 3,19 4,-17 3,10 3,13 4,-19 3,10 3,12 4,-20 3,8 3,4 3,-12 4,19 3,6 3,-1 4,-15 3,20 3,-3 4,-7 3,7 3,-7 3,6 4,10 3,-7 3,10 4,-15 3,3 3,-7 4,11 3,3 3,-25 3,8 4,16 3,-4 3,-15 4,13 3,18 3,-11 4,-17 3,11 3,-17 3,16 4,-2 3,11 3,-12 4,-4 3,9 3,19 4,-27 3,13 3,-15 3,-1 4,12 3,-7 3,11 4,-2 3,1 3,-7 4,8 3,-9 3,5 3,-23 4,16 3,1 3,3 4,-6 3,7 3,-13 4,-5 3,10 3,-4 3,2 4,-19 3,3 3,26 4,-7 3,-4 3,10 4,-14 3,10 3,-16 3,25 4,-45 3,21 3,-22 4,24 3,5 3,-5 4,-3 3,-1 3,-5 3,-3 4,7 3,0 3,12 4,-11 3,2 3,-3 4,-9 3,-3 3,20 3,-23 4,15 3,4 3,-15"/>
<path class="c" transform="scale(.1)" stroke="#0000FF" stroke-width="70" d="M2728,11744l3,9 4,24 3,18 3,-7 3,-64 4,27 3,83 3,-50 4,58 3,21 3,-133 4,188 3,-46 3,5 3,23 4,0 3,18 3,-63 4,33 3,-9 3,17 4,26 3,4 3,-10 3,-6 4,-4 3,31 3,-19 4,12 3,68 3,12 4,-49 3,-5 3,-50 3,77 4,24 3,-15 3,3 4,59 3,-7 3,-43 4,96 3,-12 3,41 3,-79 4,-21 3,22 3,6 4,-28 3,77 3,-59 4,-53 3,116 3,-24 3,28 4,-35 3,-57 3,158 4,-38 3,-24 3,20 4,49 3,-35 3,-18 3,12 4,-48 3,69 3,-9 4,31 3,-44 3,7 4,-43 3,62 3,9 3,-3 4,69 3,-7 3,-23 4,-35 3,51 3,84 4,-90 3,10 3,42 3,-58 4,61 3,-68 3,60 4,12 3,7 3,35 4,-33 3,-2 3,44 3,-33 4,38 3,-43 3,32 4,-16 3,20 3,-13 4,19 3,-82 3,139 3,-83 4,52 3,-38 3,120 4,-33 3,36 3,-83 4,29 3,39 3,-47 3,101 4,-44 3,-1 3,-23 4,58 3,-46 3,-47 4,57 3,-35 3,45 3,21 4,-20 3,4 3,-49 4,42 3,90 3,-95 4,-29 3,71 3,65 3,-13 4,-27 3,8 3,-12 4,33 3,0 3,-6 4,-58 3,53 3,-1 3,-7 4,50 3,6 3,-26 4,56 3,-25 3,-9 4,55 3,1 3,66 3,-42 4,-12 3,-3 3,-23 4,-31 3,58 3,-6 4,32 3,31 3,-26 3,35 4,61 3,-78 3,-3 4,67 3,0 3,24 4,-84 3,-21 3,117 3,-2 4,-40 3,-78 3,157 4,-10 3,-9 3,-100 4,74 3,-29 3,37 3,52 4,-52 3,-27 3,-1 4,62 3,-42 3,24 4,-2 3,-5 3,9 3,-15 4,103 3,-29 3,-23 4,90 3,-63 3,33 4,-20 3,-20 3,-8 3,17 4,66 3,-71 3,33 4,-15 3,31 3,-2 4,-29 3,44 3,-31 3,50 4,-9 3,-7 3,12 4,12 3,23 3,4 4,3 3,-13 3,-17 3,22 4,-24 3,0 3,26 4,14 3,-44 3,57 4,-14 3,-4 3,5 3,11 4,49 3,-90 3,76 4,-66 3,71 3,-29 4,-29 3,92 3,-87 3,33 4,-5 3,33 3,-30 4,62 3,32 3,14 4,-2 3,-54 3,18 3,25 4,-4 3,-11 3,-52 4,59 3,39 3,-12 4,80 3,-138 3,23 3,14 4,80 3,23 3,-75 4,41 3,25 3,-3 4,2 3,-25 3,-2 3,-10 4,11 3,68 3,-23 4,0 3,-16 3,42 4,36 3,-66 3,89 3,-26 4,-80 3,79 3,6 4,39 3,-45 3,-60 4,16 3,10 3,67 3,-44 4,-6 3,56 3,19 4,-70 3,54 3,37 4,-8 3,27 3,3 3,-13 4,-37 3,89 3,-38 4,-17 3,-7 3,34 4,-29 3,19 3,44 3,-15 4,-46 3,49 3,-13 4,-10 3,1 3,8 4,38 3,38 3,-39 3,54 4,-64 3,24 3,57 4,-37 3,7 3,5 4,-23 3,84 3,-60 3,29 4,-9 3,18 3,18 4,-110 3,24 3,-18 4,41 3,22 3,17 3,-22 4,36 3,7 3,-14 4,-34 3,20 3,16 4,31 3,-22 3,19 3,-55 4,-10 3,71 3,5 4,-28 3,21 3,34 4,5 3,24 3,-10 3,-26 4,28 3,49 3,-8 4,-70 3,38 3,37 4,-36 3,16 3,23 3,-27 4,8 3,-22 3,-14 4,16 3,36 3,-22 4,11 3,59 3,-79 3,51 4,-39 3,34 3,11 4,15 3,-55 3,15 4,18 3,-4 3,-54 3,76 4,-41 3,37 3,-32 4,48 3,-5 3,66 4,-36 3,-25 3,37 3,-62 4,75 3,9 3,-39 4,9 3,-38 3,63 4,16 3,-54 3,56 3,-44 4,73 3,-98 3,54 4,35 3,-57 3,16 4,22 3,-3 3,-15 3,2 4,11 3,4 3,-2 4,39 3,-16 3,10 4,6 3,-46 3,8 3,85 4,-104 3,41 3,39 4,-18 3,1 3,57 4,-69 3,63 3,-64 3,0 4,39 3,19 3,53 4,-42 3,0 3,15 4,-16 3,-14 3,6 3,32 4,-25 3,-26 3,23 4,-26 3,83 3,-80 4,62 3,-23 3,42 3,14 4,-54 3,27 3,-10 4,-44 3,80 3,-17 4,-4 3,6 3,-10 3,-25 4,28 3,-36 3,86 4,-82 3,60 3,-40 4,21 3,14 3,-36 3,29 4,-54 3,60 3,32 4,-37 3,-11 3,2 4,-31 3,20 3,47 3,38 4,-24 3,-17 3,2 4,16 3,34 3,-46 4,8 3,11 3,7 3,-6 4,-38 3,-6 3,43 4,24 3,30 3,-36 4,-36 3,21 3,-27 3,36 4,34 3,-22 3,50 4,-57 3,9 3,7 4,4 3,-6 3,5 3,15 4,-34 3,15 3,11 4,-17 3,-15 3,35 4,1 3,-25 3,-3 3,-27 4,22 3,38 3,-54 4,46 3,10 3,-13 4,-2 3,42 3,-10 3,-34 4,51 3,20 3,-60 4,-2 3,12 3,24 4,-8 3,-6 3,-18 3,46 4,-18 3,4 3,-2 4,8 3,-42 3,25 4,14 3,7 3,5 3,12 4,-23 3,21 3,-2 4,-7 3,-11 3,-2 4,8 3,19 3,-35 3,0 4,31 3,-4 3,19 4,7 3,-17 3,-45 4,60 3,-12 3,8 3,-4 4,-11 3,11 3,-37 4,4 3,26 3,35 4,-26 3,25 3,-28 3,5 4,20 3,0 3,-17 4,-7 3,28 3,-12 4,-15 3,6 3,-16 3,25 4,16 3,-69 3,43 4,-20 3,19 3,-1 4,-15 3,30 3,-32 3,9 4,-11 3,16 3,28 4,-19 3,38 3,-33 4,-7 3,40 3,-16 3,11 4,-7 3,23 3,-10 4,9 3,-46 3,33 4,8 3,-18 3,27 3,-23 4,-6 3,17 3,-38 4,-5 3,30 3,-44 4,73 3,-35 3,47 3,-29 4,-18 3,3 3,26 4,9 3,-24 3,-24 4,33 3,9 3,4 3,-43 4,16 3,28 3,26 4,-39 3,-25 3,38 4,-60 3,52 3,-13 3,48 4,-47 3,-16 3,74 4,-39 3,-8 3,-14 4,-6 3,-18 3,51 3,-31 4,35 3,-8 3,10 4,-27 3,10 3,-15 4,7 3,-13 3,-28 3,53 4,-31 3,76 3,-47 4,-35 3,32 3,19 4,-2 3,-25 3,23 3,-1 4,-12 3,5 3,11 4,-4 3,11 3,10 4,8 3,-52 3,15 3,16 4,-1 3,-19 3,11 4,1 3,5 3,10 4,-23 3,-27 3,31 3,4 4,1 3,26 3,-40 4,34 3,27 3,-59 4,23 3,5 3,16 3,0 4,-22 3,60 3,-49 4,11 3,9 3,-3 4,-4 3,-11 3,5 3,4 4,34 3,-57 3,21 4,2 3,-8 3,36 4,-23 3,-6 3,0 3,31 4,-7 3,-21 3,19 4,-5 3,29 3,-53 4,-17 3,30 3,-5 3,-3 4,17 3,7 3,-2 4,-1 3,-19 3,50 4,-44 3,-13 3,22 3,9 4,-46 3,51 3,-7 4,-5 3,-4 3,37 4,5 3,-64 3,17 3,-4 4,11 3,-16 3,-4 4,17 3,2 3,28 4,0 3,-3 3,-1 3,24 4,-48 3,12 3,21 4,-31 3,34 3,-29 4,10 3,-5 3,29 3,-29 4,19 3,13 3,-1 4,-11 3,-22 3,35 4,-29 3,35 3,-21 3,27 4,-21 3,4 3,-21 4,24 3,22 3,-20 4,6 3,-25 3,49 3,-53 4,55 3,-38 3,-36 4,49 3,-7 3,-15 4,-8 3,33 3,-5 3,-3 4,31 3,-26 3,-8 4,-23 3,24 3,19 4,0 3,1 3,-15 3,15 4,-49 3,34 3,51 4,-30 3,-9 3,10 4,23 3,-35 3,11 3,9 4,-17 3,16 3,-29 4,58 3,-48 3,11 4,31 3,10 3,-23 3,-9 4,11 3,-65 3,46 4,27 3,-30 3,37 4,-6 3,-29 3,12 3,4 4,12 3,-31 3,-30 4,36 3,40 3,-59 4,23 3,-12 3,14 3,35 4,-14 3,-56 3,27 4,4 3,-1 3,-5 4,-13 3,-6 3,24 3,14 4,-14 3,3 3,40 4,-41 3,18 3,0 4,-26 3,43 3,-58 3,13 4,14 3,18 3,3 4,-48 3,11 3,-27 4,1 3,53 3,-27 3,-2 4,-37 3,17 3,-53 4,42 3,-3 3,23 4,-41 3,-3 3,3 3,18 4,-24 3,-12 3,-17 4,1 3,-1 0,0 3,2 4,-1 3,12 3,-12 3,24 4,-35 3,42 3,38 4,-31 3,0 3,27 4,-10 3,13 3,20 3,-13 4,2 3,-25 3,14 4,16 3,27 3,5 4,-1 3,-12 3,12 3,1 4,31 3,-31 3,-13 4,10 3,18 3,3 4,-29 3,30 3,-24 3,46 4,-37 3,-7 3,-32 4,69 3,-46 3,19 4,-12 3,-35 3,42 3,-8 4,2 3,-7 3,4 4,29 3,-17 3,11 4,-26 3,3 3,-11 3,22 4,-12 3,-3 3,2 4,-9 3,33 3,-38 4,47 3,-22 3,21 3,16 4,-33 3,3 3,-9 4,10 3,9 3,-22 4,3 3,-11 3,-13 3,43 4,-6 3,10 3,-50 4,29 3,4 3,15 4,-18 3,-15 3,12 3,23 4,-32 3,9 3,-2 4,6 3,4 3,-28 4,58 3,-59 3,0 3,18 4,20 3,2 3,14 4,-37 3,-20 3,-13 4,6 3,9 3,-16 3,-56 4,30 3,-6 3,-46 4,-23 3,-32 3,16 4,-18 3,-51 3,-74 3,-35 4,11 3,-35 3,-50 4,-36 3,-15 3,-1 0,0 4,5 3,9 3,30 3,30 4,22 3,38 3,-2 4,79 3,-3 3,57 4,28 3,39 3,46 3,-20 4,39 3,-18 3,37 4,4 3,3 3,1 4,1 3,-15 3,10 3,-4 4,46 3,-26 3,38 4,-4 3,-16 3,28 4,-29 3,-30 3,25 3,12 4,-2 3,-22 3,39 4,-27 3,34 3,-17 4,25 3,-10 3,-26 3,33 4,-31 3,11 3,18 4,-19 3,16 3,-1 4,-7 3,-22 3,-22 3,16 4,0 3,42 3,-25 4,4 3,-11 3,-25 4,19 3,21 3,15 3,11 4,-13 3,7 3,-34 4,27 3,-3 3,-38 4,25 3,-1 3,29 3,-26 4,-30 3,28 3,41 4,-69 3,23 3,8 4,-10 3,6 3,-32 3,8 4,-2 3,7 3,-26 4,-19 3,43 3,3 4,-17 3,-15 3,6 3,-19 4,3 3,-6 3,3 1,0 3,1 3,3 3,5 4,-19 3,30 3,16 3,-22 4,-1 3,2 3,30 4,-26 3,51 3,-11 4,-11 3,23 3,12 3,-20 4,-13 3,16 3,-5 4,29 3,1 3,21 4,-25 3,11 3,-43 3,7 4,3 3,-14 3,47 4,-44 3,79 3,-65 4,29 3,1 3,28 3,-35 4,19 3,-9 3,13 4,-8 3,-23 3,19 4,1 3,24 3,-39 3,66 4,-54 3,24 3,2 4,-1 3,-27 3,33 4,-38 3,23 3,-2 3,-13 4,39 3,-58 3,57 4,-28 3,-18 3,32 4,-1 3,-26 3,17 3,34 4,-34 3,-2 3,44 4,-39 3,1 3,0 4,-14 3,-11 3,32 3,1 4,-17 3,-16 3,14 4,14 3,12 3,-39 4,14 3,12 3,3 3,-5 4,-6 3,23 3,-6 4,-33 3,65 3,-20 4,-37 3,12 3,-23 3,13 4,-1 3,12 3,27 4,-16 3,-7 3,6 4,-10 3,13 3,11 3,20 4,-36 3,-19 3,33 4,-34 3,0 3,21 4,20 3,-43 3,46 3,-33 4,20 3,-23 3,-7 4,17 3,-28 3,2 4,23 3,-24 3,-6 3,-52 4,14 3,-18 3,-14 4,32 3,-83 3,-25 4,-11 3,-25 3,-48 3,7 4,-1 3,-15 3,-5 1,0 3,2 3,3 3,20 4,36 3,-8 3,43 3,39 4,-28 3,48 3,9 4,19 3,7 3,31 4,-7 3,3 3,59 3,-20 4,-18 3,31 3,25 4,-1 3,-8 3,-18 4,43 3,-18 3,-7 3,7 4,-11 3,20 3,-32 4,18 3,-4 3,-18 4,31 3,-19 3,6 3,35 4,-25 3,10 3,-25 4,27 3,-35 3,8 4,7 3,26 3,-30 3,12 4,9 3,-42 3,69 4,-17 3,-33 3,5 4,33 3,-3 3,-12 3,-24 4,39 3,5 3,-53 4,27 3,27 3,-48 4,18 3,19 3,-39 3,24 4,-41 3,54 3,10 4,-24 3,-3 3,0 4,5 3,-17 3,14 3,7 4,-9 3,6 3,-11 4,13 3,-29 3,10 4,6 3,36 3,-6 3,-44 4,12 3,-6 3,-12 4,5 3,26 3,-45 4,49 3,-32 3,13 3,-3 4,-10 3,17 3,-20 4,10 3,32 3,-47 4,32 3,-49 3,60 3,-86 4,34 3,-38 3,26 4,-11 3,-37 3,15 4,0 3,-36 3,-43 3,0 4,-26 3,-93 3,-16 4,-81 3,-34 3,-20 4,-41 3,-33 3,-29 3,-8 1,0 3,6 3,22 3,25 4,53 3,66 3,15 4,24 3,59 3,56 3,19 4,83 3,-47 3,64 4,22 3,29 3,14 4,-12 3,17 3,-14 3,4 4,21 3,-1 3,11 4,-15 3,-15 3,43 4,5 3,-17 3,16 3,-30 4,35 3,-36 3,28 4,-7 3,19 3,-9 4,4 3,-13 3,25 3,7 4,-46 3,16 3,5 4,-3 3,-22 3,9 4,-6 3,-5 3,10 3,12 4,-17 3,-14 3,15 4,-1 3,11 3,20 4,-2 3,-63 3,81 3,-9 4,-52 3,27 3,-24 4,56 3,-58 3,38 4,-20 3,13 3,-11 3,-28 4,-9 3,32 3,-3 4,-9 3,33 3,-27 4,-12 3,46 3,-38 3,-13 4,-10 3,-4 3,-13 4,-5 3,-6 3,-14 4,-9 3,24 3,-49 3,30 4,10 3,-35 3,2 4,3 3,-12 3,-6 2,0 2,0 3,6 3,16 3,-17 4,26 3,11 3,4 4,-45 3,24 3,10 4,8 3,-3 3,46 3,-2 4,-5 3,-34 3,62 4,-48 3,49 3,-18 4,24 3,-22 3,15 3,-18 4,28 3,0 3,-12 4,31 3,-43 3,-29 4,82 3,0 3,-28 3,-28 4,11 3,-37 3,16 4,13 3,11 3,-10 4,25 3,-4 3,-7 3,-20 4,17 3,18 3,-21 4,24 3,-29 3,17 4,-35 3,-2 3,14 3,39 4,-55 3,16 3,10 4,8 3,-8 3,-12 4,-3 3,16 3,15 3,-8 4,-44 3,-12 3,18 4,22 3,3 3,-33 4,-22 3,-3 3,23 3,-23 4,41 3,-65 3,-43 4,76 3,-32 3,-70 4,-16 3,-25 3,27 3,-46 4,-8 3,-68 3,-5 4,17 3,-84 3,-14 4,23 3,-43 3,-12 3,-10 4,-1 0,0 3,5 3,6 4,17 3,2 3,13 4,37 3,3 3,44 3,13 4,57 3,-3 3,56 4,31 3,-18 3,21 4,25 3,-12 3,46 3,20 4,-49 3,58 3,-10 4,-4 3,9 3,-2 4,27 3,-21 3,43 3,-26 4,19 3,-38 3,12 4,31 3,-32 3,-9 4,48 3,-64 3,45 3,-25 4,37 3,-28 3,-16 4,42 3,-52 3,51 4,-34 3,-16 3,-7 3,1 4,-20 3,6 3,-20 4,-26 3,15 3,-37 4,-53 3,14 3,-63 3,-2 4,-40 3,-17 3,-22 4,-24 3,-68 3,-27 4,-51 3,-18 3,-21 3,-26 4,-64 3,-5 3,-19 3,-5 1,-1 3,6 3,-2 4,16 3,26 3,74 3,-56 4,27 3,6 3,45 4,3 3,30 3,-24 4,-44 3,-12 3,-55 3,-50 4,-76 3,-72 3,-90 4,-74 3,-132 3,-32 4,-53 3,-28 2,-2 1,4 3,21 4,53 3,94 3,103 4,84 3,74 3,133 4,101 3,79 3,69 3,74 4,39 3,71 3,27 4,48 3,8 3,-20 4,54 3,32 3,-5 3,33 4,-37 3,47 3,-14 4,26 3,-5 3,-49 4,16 3,31 3,9 3,1 4,-37 3,29 3,-18 4,42 3,-9 3,-30 4,51 3,-41 3,4 3,7 4,-42 3,61 3,-8 4,-15 3,35 3,-50 4,52 3,-34 3,35 3,-49 4,3 3,43 3,-43 4,25 3,-8 3,18 4,19 3,-31 3,36 3,-13 4,-6 3,14 3,-29 4,28 3,-29 3,2 4,29 3,-36 3,-38 3,47 4,-29 3,8 3,28 4,-65 3,49 3,-4 4,14 3,-63 3,-19 3,33 4,4 3,-38 3,20 4,-56 3,35 3,-50 4,-1 3,11 3,-7 3,3 4,-13 3,-29 3,36 4,-70 3,-49 3,52 4,-30 3,-35 3,-22 3,-48 4,14 3,-26 3,-18 4,-104 3,-10 3,-72 4,1 3,-45 3,-42 3,-63 4,-60 3,-77 3,-104 4,-85 3,-49 3,-208 4,-78 3,-181 3,-60 3,-163 4,-171 3,-251 3,-247 4,-214 3,-307 3,-367 4,-375 3,-255 3,-476 3,-350 4,-425 3,-209 3,-199 4,-114 1,-10 2,19 3,133 4,212 3,291 3,350 3,329 4,389 3,468 3,247 4,356 3,339 3,237 4,251 3,148 3,239 3,165 4,78 3,178 3,24 4,163 3,115 3,90 4,22 3,109 3,70 3,64 4,35 3,54 3,39 4,32 3,44 3,17 4,0 3,55 3,53 3,-20 4,6 3,12 3,63 4,-14 3,34 3,-38 4,37 3,72 3,8 3,15 4,-46 3,18 3,21 4,30 3,-30 3,17 4,10 3,-8 3,7 3,14 4,-29 3,48 3,-19 4,-19 3,43 3,-39 4,33 3,-6 3,-25 3,-23 4,10 3,-27 3,5 4,-14 3,-6 3,5 1,0 3,2 3,7 3,-5 3,-9 4,56 3,21 3,-1 4,-24 3,13 3,28 4,-16 3,24 3,28 3,19 4,24 3,-39 3,-16 4,19 3,31 3,-51 4,38 3,-12 3,48 3,-14 4,-13 3,-18 3,15 4,-7 3,34 3,-19 4,9 3,-41 3,35 3,-11 4,26 3,-54 3,21 4,3 3,-20 3,53 4,-54 3,11 3,-4 3,-3 4,28 3,-15 3,30 4,-20 3,12 3,-21 4,12 3,-27 3,4 3,14 4,3 3,16 3,-13 4,-10 3,19 3,-43 4,-11 3,40 3,19 3,-26 4,21 3,4 3,-9 4,35 3,-41 3,6 4,-15 3,27 3,-25 3,-11 4,7 3,-12 3,18 4,0 3,-2 3,-9 4,-18 3,27 3,-12 3,-22 4,18 3,7 3,6 4,-18 3,9 3,-26 4,-19 3,25 3,4 3,-18 4,4 3,14 3,9 4,24 3,-71 3,25 4,-17 3,10 3,-27 3,34 4,-13 3,11 3,-8 4,-19 3,3 3,10 4,-33 3,-25 3,0 3,5 4,-4 3,-37 3,82 4,-38 3,-3 3,-11 4,-6 3,-12 3,-17 3,8 4,-3 3,4 3,-1 0,0 4,0 3,2 3,-6 4,16 3,-27 3,-5 3,23 4,28 3,-8 3,19 4,-16 3,11 3,23 4,33 3,-31 3,8 3,7 4,-1 3,-8 3,-22 4,38 3,24 3,-44 4,57 3,-22 3,-20 3,-17 4,40 3,-20 3,10 4,24 3,8 3,-19 4,-35 3,15 3,5 3,39 4,-29 3,-19 3,-26 4,8 3,36 3,-38 4,20 3,-15 3,29 3,-44 4,-15 3,8 3,17 4,-27 3,-21 3,2 4,-31 3,24 3,-8 3,-18 4,-14 3,40 3,-36 4,1 3,6 3,-9 2,0 2,0 3,8 3,-5 3,5 4,-3 3,3 3,0 4,-5 3,15 3,14 4,-3 3,55 3,-3 3,-55 4,49 3,4 3,-16 4,23 3,41 3,-39 4,32 3,-17 3,4 3,-14 4,35 3,-9 3,-16 4,15 3,6 3,6 4,4 3,-18 3,15 3,21 4,-30 3,47 3,-60 4,-4 3,47 3,-25 4,-4 3,-2 3,43 3,8 4,-23 3,8 3,-31 4,-6 3,11 3,-4 4,16 3,-35 3,-13 3,13 4,1 3,-67 3,53 4,-59 3,46 3,-23 4,6 3,-42 3,36 3,0 4,-14 3,13 3,2 1,0 3,-1 3,-4 3,2 4,-3 3,-6 3,14 3,19 4,-20 3,-2 3,26 4,15 3,5 3,10 4,-8 3,41 3,-47 3,22 4,-22 3,29 3,-34 4,3 3,36 3,9 4,9 3,-48 3,51 3,-21 4,53 3,-58 3,-3 4,19 3,27 3,-30 4,-12 3,1 3,9 3,-30 4,77 3,-32 3,-17 4,0 3,5 3,-8 4,12 3,-18 3,6 3,-20 4,50 3,-30 3,-3 4,17 3,-40 3,35 4,5 3,-12 3,-41 3,61 4,-4 3,-35 3,48 4,-51 3,5 3,43 4,-9 3,-23 3,15 3,-25 4,-8 3,9 3,37 4,-4 3,-16 3,37 4,-27 3,-24 3,24 3,-2 4,-43 3,7 3,51 4,-51 3,23 3,25 4,5 3,-34 3,-38 3,44 4,15 3,-21 3,-30 4,26 3,30 3,-3 4,-28 3,19 3,-14 3,17 4,-26 3,19 3,-18 4,42 3,-35 3,12 4,-20 3,-25 3,38 3,-22 4,43 3,4 3,-31 4,-14 3,34 3,-26 4,23 3,-1 3,-26 3,38 4,-31 3,5 3,-18 4,-27 3,21 3,-15 4,23 3,-43 3,15 3,3 4,18 3,-53 3,10 4,-23 3,-5 3,4 4,13 3,-8 3,-6 2,0 1,0 4,2 3,4 3,6 4,19 3,-9 3,-8 4,-1 3,8 3,3 3,-11 4,6 3,59 3,-8 4,-31 3,16 3,-2 4,19 3,-14 3,10 3,9 4,22 3,-28 3,5 4,-21 3,6 3,17 4,-16 3,-24 3,22 3,16 4,-7 3,7 3,-15 4,23 3,8 3,12 4,-22 3,-20 3,18 3,-50 4,-22 3,73 3,-38 4,-33 3,51 3,-5 4,-27 3,-27 3,49 3,-61 4,0 3,-5 3,5 4,-12 3,10 3,2 1,0 3,-1 3,-1 3,5 3,12 4,14 3,-26 3,-19 4,-6 3,84 3,-18 4,17 3,6 3,1 3,34 4,-28 3,25 3,-38 4,26 3,-20 3,2 4,-20 3,36 3,-2 3,25 4,-34 3,-7 3,3 4,-7 3,37 3,-3 4,-59 3,59 3,-35 3,25 4,-35 3,50 3,-61 4,15 3,24 3,-30 4,32 3,-34 3,34 3,12 4,-70 3,61 3,-5 4,-33 3,22 3,-3 4,45 3,-50 3,17 3,-24 4,10 3,4 3,-19 4,21 3,-29 3,-1 4,-7 3,-4 3,13 3,-4 4,-63 3,4 3,11 4,-10 3,-58 3,36 4,6 3,-79 3,-39 3,-49 4,-23 3,-54 3,-30 4,-46 3,-105 3,6 4,-67 3,-103 3,1 3,-48 4,-107 3,-20 3,-46 4,-18 3,-7 0,0 3,2 4,0 3,9 3,12 3,5 4,76 3,-10 3,69 4,-49 3,51 3,19 4,37 3,61 3,45 3,73 4,-44 3,59 3,15 4,14 3,29 3,21 4,89 3,-25 3,32 3,-16 4,44 3,1 3,3 4,21 3,-6 3,61 4,-35 3,3 3,1 3,10 4,13 3,0 3,19 4,9 1,2 2,4 3,9 4,15 3,-18 3,44 3,3 4,-3 3,-2 3,25 4,13 3,-47 3,50 4,13 3,8 3,-32 3,15 4,0 3,34 3,36 4,-37 3,3 3,-51 4,8 3,19 3,-29 3,-20 4,-14 3,-11 3,0 4,-25 3,-7 3,-42 4,13 3,-85 3,18 3,2 4,-13 2,0 1,0 3,6 4,14 3,-5 3,36 4,-10 3,47 3,14 3,46 4,14 3,40 3,-25 4,-15 3,80 3,7 4,-1 3,-1 3,-4 3,31 4,19 3,13 3,-28 4,-13 3,46 3,15 4,-19 3,-47 3,70 3,-62 4,52 3,-60 3,20 4,30 3,-14 3,13 4,7 3,13 3,-4 3,-52 4,23 3,55 3,-49 4,-30 3,57 3,-21 4,2 3,32 3,-4 3,-19 4,30 3,-29 3,3 4,18 3,-25 3,11 4,10 3,-8 3,-12 3,53 4,-40 3,21 3,-31 4,18 3,-24 3,49 4,-33 3,1 3,42 3,-76 4,31 3,-2 3,1 4,4 3,-29 3,4 4,29 3,-26 3,17 3,-6 4,21 3,-2 3,0 4,-57 3,43 3,-10 4,22 3,-18 3,21 3,-56 4,68 3,-38 3,3 4,-13 3,-9 3,33 4,-23 3,32 3,4 3,-5 4,-12 3,-15 3,-10 4,-10 3,19 3,26 4,-48 3,30 3,-9 3,-15 4,15 3,0 3,-29 4,-8 3,-1 3,72 4,-12 3,-32 3,36 3,-15 4,-14 3,30 3,-49 4,-11 3,16 3,5 4,42 3,-1 3,-58 3,26 4,31 3,0 3,-55 4,51 3,-18 3,-5 4,14 3,-41 3,28 3,-16 4,16 3,-14 3,19 4,21 3,-32 3,-7 4,-3 3,5 3,-2 3,24 4,-26 3,-23 3,34 4,3 3,6 3,-5 4,-21 3,14 3,17 3,3 4,-49 3,49 3,-40 4,16 3,22 3,-3 4,-8 3,0 3,7 3,-30 4,17 3,3 3,2 4,-17 3,58 3,-36 4,16 3,-27 3,11 3,-10 4,-3 3,5 3,-17 4,23 3,13 3,-48 4,-2 3,-15 3,42 3,11 4,-15 3,-34 3,17 4,9 3,5 3,-5 4,-49 3,-13 3,27 3,-29 4,78 3,-67 3,50 4,-21 3,-27 3,-5 4,17 3,5 3,-53 3,5 4,-30 3,37 3,-38 4,11 3,-19 3,-16 4,19 3,-11 3,34 3,-42 4,-48 3,58 3,-31 4,5 3,1 3,-17 4,4 1,0 2,0 3,-4 3,8 4,4 3,-24 3,10 4,31 3,20 3,2 4,-33 3,19 3,8 3,4 4,-25 3,30 3,-25 4,-12 3,75 3,-74 4,10 3,19 3,-8 3,25 4,-20 3,-19 3,33 4,-27 3,14 3,-14 4,-15 3,52 3,-13 3,-24 4,5 3,-34 3,1 4,22 3,19 3,-41 4,2 3,-30 3,36 3,-32 4,-3 3,-16 3,30 4,30 3,-20 3,-26 4,15 3,-5 1,0 2,1 3,10 4,-22 3,21 3,-8 4,-9 3,25 3,-37 4,82 3,-25 3,-54 3,46 4,-23 3,39 3,-9 4,51 3,3 3,-59 4,30 3,-21 3,50 3,-7 4,26 3,14 3,-38 4,20 3,-55 3,65 4,-7 3,12 3,-14 3,60 4,-64 3,14 3,4 4,39 3,-9 3,1 4,-34 3,52 3,-14 3,-23 4,-29 3,68 3,-17 4,-45 3,76 3,1 4,-64 3,58 3,0 3,-31 4,9 3,4 3,38 4,-38 3,12 3,-5 4,-11 3,27 3,-39 3,-4 4,0 3,55 3,31 4,-34 3,-11 3,4 4,10 3,-15 3,-14 3,46 4,-28 3,-6 3,17 4,15 3,-29 3,11 4,-25 3,0 3,22 3,2 4,-10 3,11 3,-35 4,-18 3,-1 3,37 4,-46 3,50 3,-10 3,13 4,-35 3,-6 3,32 4,-32 3,11 3,5 4,-6 3,5 3,2 3,-15 4,5 3,7 3,-51 4,62 3,-21 3,-25 4,9 3,22 3,-27 3,6 4,10 3,3 3,-31 4,-3 3,-17 3,3 4,14 3,-16 3,-30 3,27 4,-39 3,-12 3,-6 4,-27 3,55 3,-86 4,35 3,-2 3,-35 3,17 4,-14 3,-13 3,-6 0,0 4,-7 3,18 3,-6 4,4 3,-9 3,24 3,-35 4,16 3,5 3,14 4,-62 3,41 3,-4 4,15 3,-44 3,-20 3,14 4,-12 3,-30 3,-13 4,11 3,-42 3,-15 4,-86 3,-8 3,-72 3,13 4,-44 3,-26 3,-114 4,-92 3,-11 3,-91 4,-174 3,-71 3,-135 3,-97 4,-126 3,-87 3,-36 4,-114 3,-88 3,-184 4,-38 3,-78 3,-73 3,-20 4,-24 1,-2 2,6 3,23 4,68 3,74 3,8 4,110 3,163 3,81 3,169 4,34 3,88 3,159 4,67 3,55 3,121 4,132 3,61 3,73 3,76 4,67 3,63 3,24 4,83 3,19 3,13 4,72 3,44 3,-36 3,65 4,49 3,-11 3,-38 4,61 3,39 3,10 4,-14 3,11 3,-1 3,-3 4,11 3,36 3,-11 4,-17 3,-8 3,30 4,50 3,-67 3,48 3,-51 4,83 3,9 3,-18 4,5 3,-4 3,-12 4,19 3,-51 3,32 3,-14 4,39 3,9 3,8 4,-8 3,-17 3,23 4,2 3,-16 3,1 3,-10 4,-18 3,44 3,-14 4,10 3,-8 3,26 4,-65 3,34 3,22 3,4 4,-30 3,22 3,-19 4,-14 3,4 3,10 4,30 3,-51 3,2 3,1 4,-20 3,30 3,-39 4,71 3,-18 3,-49 4,35 3,-19 3,23 3,4 4,-12 3,-48 3,90 4,-24 3,-22 3,-35 4,27 3,-43 3,65 3,-13 4,-10 3,15 3,35 4,-53 3,13 3,-12 4,-43 3,86 3,-19 3,4 4,-17 3,47 3,-34 4,-13 3,28 3,-19 4,-22 3,26 3,41 3,-73 4,27 3,2 3,-1 4,19 3,4 3,-45 4,48 3,14 3,-53 3,-15 4,32 3,-7 3,3 4,-4 3,-16 3,47 4,3 3,-48 3,30 3,6 4,-2 3,-33 3,-5 4,71 3,-80 3,19 4,12 3,13 3,-34 3,15 4,44 3,0 3,-31 4,-17 3,-1 3,32 4,-38 3,43 3,-34 3,-15 4,3 3,62 3,-53 4,14 3,0 3,-32 4,36 3,3 3,14 3,-38 4,-3 3,16 3,7 4,10 3,-63 3,17 4,30 3,-12 3,37 3,-25 4,-63 3,72 3,-46 4,-2 3,-1 3,-32 4,59 3,-64 3,-8 3,27 4,-3 3,15 3,-64 4,30 3,-10 3,-27 4,3 3,39 3,-35 3,9 4,-1 1,0 2,1 3,-8 4,9 3,34 3,-23 4,14 3,-36 3,33 3,-11 4,47 3,-25 3,2 4,18 3,-32 3,37 4,-4 3,19 3,7 3,5 4,14 3,-1 3,-32 4,-17 3,70 3,-2 4,2 3,-18 3,33 3,-49 4,-4 3,75 3,-61 4,25 3,-2 3,8 4,-18 3,15 3,10 3,-49 4,-30 3,63 3,-65 4,57 3,-10 3,22 4,-24 3,20 3,-41 3,-39 4,56 3,-10 3,-20 4,7 3,-23 3,-41 4,1 3,18 3,30 3,-43 4,-82 3,32 3,-47 4,6 3,-35 3,37 4,-18 3,-18 3,-5 3,-28 4,-2 3,22 3,-52 4,-28 3,20 3,-31 4,3 3,-8 0,0 3,-1 3,14 4,-10 3,-5 3,17 4,7 3,14 3,22 4,15 3,-3 3,3 3,-6 4,-21 3,35 3,38 4,-13 3,19 3,-8 4,22 3,-64 3,1 3,-25 4,20 3,29 3,-36 4,84 3,-61 3,-16 4,33 3,-8 3,10 3,-41 4,-4 3,7 3,-1 4,-15 3,-6 2,-1 1,0 4,5 3,-5 3,11 3,-25 4,61 3,1 3,-21 4,24 3,-49 3,1 4,-11 3,79 3,-27 3,5 4,7 3,-15 3,-24 4,-35 3,53 3,14 4,-21 3,-33 3,16 3,36 4,-20 3,-28 3,27 4,13 3,-9 3,5 0,0 4,3 3,12 3,-16 3,-9 4,36 3,-22 3,48 4,-42 3,34 3,7 4,35 3,53 3,-1 3,-61 4,91 3,-86 3,91 4,-47 3,25 3,16 4,1 3,-47 3,101 3,-21 4,-4 3,-50 3,38 4,-21 3,43 3,-21 4,59 3,-57 3,17 3,5 4,-26 3,21 3,-24 4,11 3,-28 3,31 4,-10 3,38 3,-35 3,-6 4,24 3,-45 3,40 4,-43 3,32 3,21 4,-22 3,2 3,30 3,-30 4,33 3,-1 3,-10 4,-40 3,49 3,-48 4,-2 3,15 3,-16 3,50 4,-53 3,28 3,16 4,5 3,2 3,-23 4,27 3,9 3,-25 3,14 4,-17 3,-12 3,9 4,-32 3,29 3,-47 4,56 3,-19 3,22 3,-49 4,10 3,-7 3,-13 4,14 3,10 3,-40 4,38 3,-33 3,16 3,-1 4,20 3,-28 3,39 4,-82 3,59 3,-2 4,-6 3,8 3,-82 3,59 4,-11 3,-14 3,-14 4,-54 3,55 3,21 4,-49 3,-26 3,-34 3,60 4,-50 3,-17 3,-21 4,-7 3,17 3,-22 4,14 3,-24 3,-6 3,8 3,-1 1,0 3,0 3,1 4,9 3,-29 3,-1 4,68 3,-43 3,47 3,8 4,38 3,-3 3,-27 4,-28 3,43 3,20 4,2 3,45 3,-52 3,38 4,43 3,-48 3,21 4,1 3,18 3,28 4,-57 3,40 3,9 3,-18 4,7 3,25 3,27 4,-35 3,-13 3,-6 4,57 3,-24 3,-52 3,78 4,-64 3,36 3,-45 4,26 3,-32 3,58 4,-21 3,-10 3,35 3,-38 4,24 3,5 3,-23 4,34 3,-35 3,1 4,-11 3,15 3,23 3,-19 4,8 3,-1 3,8 4,-23 3,29 3,6 4,-52 3,54 3,-35 3,-29 4,36 3,8 3,6 4,0 3,-8 3,31 4,-63 3,34 3,-52 3,80 4,11 3,-73 3,-3 4,51 3,-45 3,29 4,42 3,-29 3,30 3,-51 4,7 3,32 3,-74 4,63 3,-24 3,27 4,-47 3,29 3,-56 3,72 4,0 3,-34 3,26 4,-22 3,9 3,20 4,-46 3,11 3,48 3,-42 4,-8 3,12 3,-35 4,24 3,-26 3,32 4,28 3,29 3,-18 3,-66 4,39 3,-15 3,23 4,-12 3,-15 3,16 4,-15 3,18 3,-6 3,-3 4,-56 3,65 3,-32 4,-12 3,72 3,-16 4,-45 3,16 3,1 3,-33 4,13 3,8 3,34 4,-46 3,9 3,39 4,-64 3,83 3,-3 3,-76 4,61 3,-55 3,24 4,27 3,-43 3,22 4,-1 3,-28 3,11 3,11 4,-5 3,39 3,27 4,-49 3,-8 3,-34 4,42 3,-14 3,-28 3,-14 4,72 3,-38 3,66 4,-35 3,-3 3,-65 4,11 3,44 3,-11 3,50 4,-91 3,36 3,7 4,-5 3,31 3,11 4,-7 3,-52 3,-27 3,67 4,-44 3,43 3,-26 4,9 3,27 3,0 4,-49 3,-18 3,64 3,-51 4,27 3,-40 3,31 4,-11 3,27 3,17 4,-24 3,-10 3,4 3,-32 4,13 3,51 3,-50 4,-15 3,22 3,-5 4,3 3,22 3,-26 3,12 4,-19 3,45 3,-18 4,44 3,-42 3,-38 4,-8 3,22 3,18 3,-6 4,-8 3,17 3,2 4,11 3,21 3,-76 4,15 3,27 3,-22 3,-23 4,62 3,-48 3,-15 4,47 3,27 3,-40 4,-48 3,57 3,24 3,20 4,0 3,-17 3,-45 4,9 3,8 3,-12 4,6 3,8 3,-19 3,-9 4,15 3,1 3,-24 4,-2 3,22 3,-30 4,59 3,-19 3,29 3,-58 4,12 3,-32 3,20 4,26 3,5 3,-51 4,12 3,22 3,-6 3,21 4,-29 3,14 3,-32 4,71 3,-27 3,5 4,4 3,-9 3,12 3,10 4,-16 3,14 3,11 4,-48 3,44 3,-73 4,39 3,5 3,15 3,-24 4,-2 3,-10 3,17 4,10 3,-30 3,49 4,-43 3,24 3,-18 3,-21 4,-11 3,20 3,-23 4,28 3,7 3,4 4,-17 3,-20 3,31 3,11 4,6 3,-8 3,-38 4,15 3,21 3,-6 4,-14 3,1 3,2 3,31 4,-51 3,75 3,-46 4,24 3,-20 3,32 4,-41 3,-58 3,34 3,56 4,-66 3,-5 3,-28 4,65 3,35 3,-69 4,-19 3,55 3,-21 3,-29 4,-7 3,42 3,-24 4,-20 3,-5 3,12 4,-38 3,75 3,-28 3,15 4,-11 3,-15 3,30 4,-60 3,-10 3,30 4,-8 3,71 3,-66 3,8 4,-3 3,27 3,-32 4,21 3,-19 3,11 4,-14 3,-14 3,12 3,17 4,-19 3,-34 3,36 4,-44 3,3 3,13 4,3 3,2 3,-6 3,-43 4,37 3,-28 3,-33 4,42 3,-20 3,-1 4,-33 3,34 3,-21 3,24 4,-15 3,-67 3,-12 4,6 3,-50 3,-24 4,-12 3,-37 3,-3 3,35 4,-40 3,-86 3,13 4,-61 3,-37 3,-66 4,-12 3,-52 3,-82 3,-1 4,-106 3,-85 3,-40 4,1 3,-116 3,-54 4,-48 3,-129 3,37 3,-76 4,-39 3,-58 3,-107 4,-14 3,-46 3,-30 4,-80 3,44 3,-38 3,1 4,-5 0,0 3,-1 3,6 4,13 3,27 3,-39 4,58 3,2 3,-5 3,12 4,60 3,80 3,31 4,101 3,-24 3,63 4,-12 3,74 3,122 3,2 4,39 3,47 3,-40 4,151 3,32 3,15 4,52 3,39 3,22 3,76 4,-19 3,52 3,47 4,34 3,24 3,-1 4,43 3,57 3,3 3,45 4,-14 3,42 3,26 4,14 3,50 3,-23 4,33 3,4 3,20 3,-8 4,44 3,-32 3,39 4,31 3,-8 3,25 4,-9 3,-1 3,27 3,-1 4,-9 3,-10 3,13 4,22 3,28 3,-55 4,47 3,39 3,-63 3,16 4,7 3,1 3,15 4,-16 3,33 3,-58 4,73 3,-15 3,36 3,-66 4,23 3,39 3,21 4,-3 3,-63 3,17 4,-22 3,-25 3,16 3,30 4,-43 3,20 3,4 4,-15 3,24 3,-77 4,49 3,5 3,0 3,-31 4,-12 3,-3 3,-28 4,8 3,0 3,-34 4,46 3,-51 3,16 3,-78 4,33 3,27 3,-36 4,0 3,-1 2,-1 1,0 4,2 3,-6 3,6 3,-1 4,-7 3,60 3,-25 4,26 3,10 3,26 4,9 3,-25 3,6 3,29 4,-26 3,55 3,4 4,-48 3,98 3,-46 4,34 3,-67 3,55 3,10 4,31 3,-53 3,57 4,-55 3,15 3,44 4,-46 3,-25 3,27 3,11 4,26 3,11 3,-22 4,45 3,-85 3,21 4,29 3,-17 3,-29 3,42 4,3 3,-19 3,-1 4,-3 3,-30 3,51 4,-29 3,26 3,10 3,-40 4,11 3,34 3,-30 4,-18 3,-27 3,-10 4,61 3,-52 3,32 3,28 4,-7 3,-47 3,59 4,-96 3,54 3,5 4,0 3,6 3,-6 3,-9 4,-4 3,-10 3,1 4,47 3,-4 3,-53 4,19 3,-52 3,42 3,5 4,-7 3,32 3,-12 4,-19 3,-14 3,16 4,60 3,-96 3,31 3,34 4,-33 3,-13 3,0 4,34 3,17 3,-91 4,65 3,-18 3,41 3,-15 4,5 3,-11 3,-14 4,-24 3,18 3,15 4,38 3,-40 3,-34 3,36 4,15 3,15 3,-7 4,-38 3,1 3,-50 4,43 3,-35 3,42 3,36 4,-22 3,-51 3,61 4,-7 3,-53 3,18 4,41 3,-16 3,7 3,-55 4,45 3,19 3,-39 4,15 3,-6 3,6 4,9 3,-40 3,40 3,-15 4,61 3,-55 3,6 4,-20 3,12 3,-24 4,17 3,-6 3,-32 3,12 4,23 3,22 3,-37 4,4 3,-3 3,-16 4,27 3,39 3,-44 3,-12 4,27 3,21 3,0 4,-23 3,23 3,-63 4,11 3,10 3,35 3,-77 4,55 3,-13 3,48 4,-55 3,39 3,-14 4,10 3,12 3,-11 3,-13 4,-6 3,-20 3,-1 4,37 3,-49 3,24 4,-47 3,59 3,11 3,-21 4,-19 3,17 3,13 4,-52 3,56 3,-42 4,54 3,-27 3,-7 3,-5 4,-23 3,30 3,-31 4,36 3,-24 3,-13 4,0 3,33 3,33 3,-92 4,70 3,-16 3,-66 4,46 3,-28 3,11 4,16 3,33 3,-56 3,78 4,-45 3,14 3,-6 4,-45 3,15 3,20 4,18 3,-64 3,34 3,41 4,-38 3,57 3,-104 4,12 3,0 3,89 4,-57 3,46 3,-16 3,-44 4,-14 3,39 3,54 4,-69 3,53 3,-81 4,70 3,-58 3,3 3,21 4,13 3,-32 3,36 4,-15 3,-44 3,36 4,6 3,-2 3,-31 3,68 4,-33 3,9 3,-8 4,-20 3,-27 3,64 4,-44 3,27 3,5 3,-20 4,-11 3,4 3,-25 4,56 3,-36 3,22 4,36 3,-75 3,50 3,-38 4,20 3,-62 3,61 4,-81 3,28 3,17 4,43 3,-25 3,-72 3,78 4,-1 3,-89 3,-22 4,47 3,-9 3,4 4,-11 3,-8 3,-25 3,16 4,4 3,-26 3,28 4,-5 3,-4 0,0 3,0 4,-4 3,-3 3,25 3,-63 4,45 3,62 3,-54 4,45 3,-8 3,-36 4,0 3,56 3,-6 3,-6 4,-47 3,29 3,3 4,-1 3,15 3,-12 4,34 3,-77 3,19 3,57 4,-17 3,-20 3,15 4,-22 3,62 3,-18 4,9 3,35 3,-66 3,39 4,-26 3,17 3,9 4,-20 3,56 3,-48 4,-48 3,40 3,-30 3,8 4,-22 3,61 3,-71 4,42 3,40 3,-33 4,-24 3,37 3,-24 3,-8 4,44 3,2 3,15 4,-11 3,-25 3,23 4,-30 3,4 3,32 3,-47 4,-26 3,32 3,58 4,-46 3,-3 3,13 4,-56 3,14 3,38 3,-29 4,-23 3,0 3,45 4,-34 3,19 3,-28 4,18 3,-33 3,33 3,35 4,-31 3,5 3,-32 4,40 3,-33 3,10 4,-10 3,38 3,14 3,-55 4,40 3,-24 3,33 4,-59 3,-10 3,39 4,-69 3,75 3,-1 3,-26 4,-18 3,-26 3,24 4,28 3,-2 3,5 4,-43 3,51 3,-49 3,31 4,-28 3,8 3,3 4,-3 3,-6 3,-7 4,1 3,-10 3,-2 3,61 4,-89 3,47 3,-26 4,13 3,11 3,-9 4,1 0,0 3,2 3,2 3,6 4,-22 3,29 3,34 4,-77 3,20 3,14 4,10 3,-4 3,-15 3,-31 4,17 3,12 3,-27 4,56 3,-43 3,48 4,-75 3,45 3,-36 3,-3 4,41 3,26 3,-52 4,42 3,-30 3,6 4,-4 3,14 3,10 3,-24 4,11 3,1 3,18 4,-8 3,-28 3,35 4,-14 3,-1 3,-34 3,16 4,9 3,-1 3,-25 4,68 3,-61 3,47 4,-26 3,-39 3,86 3,-17 4,-37 3,46 3,-24 4,-28 3,24 3,21 4,-29 3,22 3,-27 3,-10 4,-22 3,45 3,34 4,-53 3,-25 3,23 4,13 3,29 3,-40 3,14 4,-13 3,-22 3,12 4,-4 3,-11 3,12 4,5 3,-40 3,95 3,-16 4,-36 3,-29 3,-3 4,8 3,-9 3,38 4,-75 3,33 3,-17 3,37 4,-24 3,40 3,-58 4,74 3,-26 3,53 4,-48 3,10 3,-9 3,-71 4,73 3,-45 3,-10 4,87 3,-26 3,-28 4,37 3,-66 3,57 3,-22 4,-23 3,50 3,-30 4,-48 3,-14 3,-3 4,19 3,72 3,-58 3,23 4,-24 3,15 3,6 4,32 3,20 3,-88 4,1 3,24 3,42 3,-69 4,44 3,-23 3,-2 4,-13 3,55 3,-62 4,-6 3,-35 3,72 3,-72 4,-2 3,56 3,18 4,47 3,-87 3,-19 4,60 3,-44 3,-10 3,2 4,-32 3,107 3,-34 4,-43 3,49 3,-14 4,1 3,1 3,-20 3,-9 4,45 3,37 3,-47 4,-14 3,38 3,-16 4,-18 3,56 3,-66 3,-11 4,-18 3,56 3,-35 4,21 3,26 3,-103 4,16 3,36 3,-32 3,0 4,29 3,-19 3,63 4,1 3,-41 3,-11 4,-18 3,24 3,-34 3,24 4,26 3,-36 3,18 4,-18 3,6 3,29 4,-6 3,-8 3,-33 3,39 4,-83 3,70 3,-15 4,8 3,18 3,-15 4,-21 3,-20 3,17 3,7 4,28 3,-51 3,-46 4,3 3,67 3,-64 4,14 3,24 3,-53 3,62 4,-12 3,6 3,-30 4,15 3,-35 3,-38 4,16 3,34 3,-33 3,-67 4,37 3,-1 3,-66 4,-35 3,63 3,13 4,-48 3,-68 3,18 3,-27 4,37 3,-57 3,38 4,-64 3,33 3,-26 4,-61 3,70 3,-90 3,-56 4,43 3,-113 3,85 4,-34 3,2 3,-33 4,-74 3,-17 3,55 3,-33 4,-4 3,-13 3,-60 4,3 3,65 3,-34 4,-21 3,8 2,-1 1,-1 3,2 4,19 3,13 3,-38 4,41 3,38 3,18 4,0 3,16 3,29 3,60 4,48 3,-4 3,13 4,31 3,87 3,-30 4,33 3,-17 3,56 3,-39 4,6 3,81 3,23 4,5 3,56 3,2 4,-25 3,-15 3,10 3,42 4,-23 3,-31 3,92 4,38 3,-60 3,46 4,29 3,-60 3,7 3,52 4,-49 3,31 3,-69 4,45 3,-14 3,22 4,-13 3,-30 3,43 3,-56 4,104 3,-1 3,-32 4,-46 3,20 3,90 4,-33 3,-30 3,5 3,26 4,-21 3,32 3,-56 4,35 3,-9 3,-46 4,46 3,-20 3,0 3,-17 4,54 3,-13 3,-3 4,-11 3,45 3,-45 4,-14 3,26 3,16 3,-5 4,-4 3,-6 3,14 4,-24 3,-35 3,-20 4,27 3,37 3,9 3,-4 4,-21 3,8 3,36 4,-42 3,3 3,-47 4,21 3,2 3,-51 3,82 4,5 3,9 3,-37 4,21 3,-83 3,46 4,-11 3,-46 3,52 3,27 4,-54 3,29 3,-35 4,44 3,2 3,-67 4,12 3,44 3,-6 3,-12 4,-38 3,62 3,-40 4,-24 3,71 3,-23 4,-28 3,-2 3,17 3,-7 4,0 3,-19 3,-5 4,40 3,-31 3,9 4,-11 3,35 3,-43 3,35 4,3 3,-86 3,9 4,-8 3,24 3,-6 4,-14 3,47 3,-65 3,-37 4,27 3,47 3,-49 4,21 3,-26 3,-29 4,35 3,-2 3,14 3,-10 2,0 2,0 3,1 3,-11 4,11 3,12 3,-13 4,-1 3,-43 3,63 3,-42 4,66 3,-35 3,77 4,-41 3,14 3,-55 4,25 3,-28 3,-4 3,11 4,16 3,-10 3,55 4,2 3,16 3,-12 4,-7 3,-16 3,10 3,-3 4,11 3,13 3,-18 4,25 3,-13 3,5 4,-16 3,43 3,-57 3,55 4,-30 3,15 3,-39 4,-27 3,42 3,-30 4,-22 3,45 3,0 3,-4 4,-32 3,55 3,-22 4,-53 3,49 3,-46 4,44 3,20 3,37 3,-77 4,-9 3,61 3,-36 4,-10 3,-34 3,3 4,15 3,39 3,7 3,-17 4,-23 3,58 3,-51 4,-31 3,10 3,8 4,18 3,-65 3,51 3,-54 4,16 3,-15 3,36 4,12 3,1 3,15 4,7 3,21 3,-78 3,36 4,-48 3,106 3,-88 4,41 3,-48 3,19 4,57 3,-49 3,33 3,-26 4,-7 3,23 3,23 4,22 3,-94 3,75 4,11 3,-50 3,20 3,-37 4,-8 3,50 3,-30 4,25 3,0 3,-14 4,-30 3,81 3,-98 3,61 4,-9 3,-38 3,43 4,-29 3,-7 3,-61 4,51 3,8 3,52 3,-68 4,41 3,-78 3,65 4,-55 3,74 3,-13 4,30 3,-46 3,-17 3,20 4,-36 3,76 3,-46 4,-34 3,-25 3,95 4,-4 3,-44 3,8 3,-64 4,85 3,-30 3,20 4,12 3,-6 3,-46 4,26 3,11 3,-97 3,69 4,41 3,-4 3,-61 4,8 3,53 3,-62 4,12 3,5 3,34 3,-28 4,-11 3,5 3,-35 4,-10 3,78 3,-52 4,-35 3,12 3,10 3,59 4,-73 3,25 3,22 4,-42 3,-8 3,-20 4,-53 3,27 3,-11 3,26 4,-30 3,2 3,32 4,16 3,-80 3,40 4,-17 3,-33 3,22 3,-42 4,32 3,-6 3,-54 4,66 3,-20 3,15 4,-9 3,1 3,-2 0,0 3,0 4,-2 3,5 3,-10 4,32 3,-17 3,-20 4,31 3,-32 3,-25 3,61 4,-16 3,-6 3,60 4,-14 3,-12 3,7 4,-19 3,17 3,-9 3,9 4,0 3,78 3,-57 4,-4 3,23 3,-38 4,21 3,-39 3,22 3,50 4,-31 3,-3 3,33 4,15 3,3 3,-45 4,17 3,33 3,13 3,-54 4,20 3,-20 3,37 4,-87 3,41 3,49 4,-82 3,9 3,10 3,25 4,-21 3,-3 3,51 4,-69 3,56 3,-19 4,-32 3,23 3,-32 3,44 4,-47 3,67 3,3 4,-81 3,43 3,2 4,-24 3,27 3,-54 3,-33 4,20 3,102 3,-84 4,-18 3,57 3,-48 4,-16 3,101 3,-99 3,103 4,-28 3,-21 3,-16 4,-43 3,45 3,-6 4,-20 3,78 3,-62 3,37 4,-27 3,28 3,-34 4,18 3,-17 3,24 4,5 3,-50 3,62 3,-7 4,-66 3,75 3,-69 4,-15 3,26 3,2 4,15 3,-34 3,40 3,-17 4,-26 3,21 3,-45 4,48 3,35 3,-57 4,-31 3,71 3,-21 3,-85 4,25 3,-4 3,-1 4,13 3,-22 3,15 4,-19 3,14 3,6 3,2 0,0 4,-3 3,0 3,13 4,-10 3,9 3,11 4,-73 3,39 3,61 3,-42 4,64 3,-36 3,-72 4,-27 3,60 3,84 4,-58 3,12 3,-43 3,3 4,67 3,19 3,-59 4,37 3,-39 3,-68 4,-5 3,65 3,47 3,-61 4,-28 3,55 3,-13 4,-3 3,10 3,-2 4,20 3,-9 3,4 3,5 4,22 3,-20 3,-7 4,33 3,-60 3,27 4,5 3,-8 3,24 3,-15 4,41 3,-27 3,-46 4,9 3,95 3,-44 4,-55 3,61 3,-57 3,-20 4,9 3,48 3,23 4,3 3,-44 3,-11 4,14 3,0 3,-22 3,32 4,-39 3,79 3,-18 4,-58 3,-17 3,35 4,-24 3,42 3,2 3,-77 4,39 3,45 3,-78 4,18 3,2 3,-27 4,-12 3,87 3,-23 3,-30 4,60 3,-54 3,40 4,-44 3,1 3,-20 4,-13 3,56 3,46 3,-97 4,-14 3,31 3,42 4,-34 3,-78 3,54 4,-17 3,21 3,7 3,-23 4,31 3,2 3,17 4,-67 3,40 3,0 4,14 3,-46 3,68 3,-70 4,58 3,-2 3,21 4,-98 3,9 3,5 4,52 3,14 3,-47 3,32 4,-30 3,-18 3,-3 4,-7 3,-6 3,33 4,-9 3,2 3,-24 3,-22 4,28 3,-4 3,20 4,-9 3,71 3,-91 4,89 3,-82 3,12 3,47 4,-58 3,-39 3,27 4,34 3,-7 3,22 4,16 3,-78 3,43 3,-27 4,-8 3,32 3,63 4,-52 3,-38 3,58 4,-64 3,36 3,-58 3,44 4,14 3,-48 3,24 4,15 3,-14 3,48 4,-24 3,-19 3,6 3,15 4,-4 3,-39 3,59 4,16 3,21 3,-91 4,88 3,-84 3,-15 3,9 4,13 3,-3 3,7 4,-14 3,29 3,-20 4,-31 3,20 3,-34 3,75 4,-24 3,-63 3,2 4,36 3,-13 3,-53 4,52 3,-23 3,-18 3,-13 4,83 3,-23 3,17 4,-11 3,-18 3,-10 4,27 3,6 3,-92 3,9 4,14 3,0 3,10 4,-26 3,-34 3,-28 4,14 3,26 3,-126 3,-1 4,57 3,-121 3,71 4,-67 3,52 3,-7 4,-52 3,-6 3,-58 3,66 4,13 3,-40 3,-96 4,-68 3,119 3,-109 4,63 3,-134 3,12 3,53 4,-39 3,37 3,-49 4,4 3,30 3,-36 4,1 1,0 2,1 3,-2 3,27 4,-2 3,6 3,34 4,-47 3,62 3,-41 4,-38 3,108 3,-4 3,-55 4,49 3,17 3,46 4,5 3,43 3,19 4,37 3,-56 3,39 3,-5 4,-7 3,29 3,19 4,34 3,-30 3,42 4,-28 3,26 3,-11 3,-30 4,70 3,36 3,15 4,-69 3,91 3,-76 4,70 3,-43 3,-16 3,34 4,65 3,-82 3,19 4,57 3,-61 3,81 4,23 3,-3 3,7 3,-23 4,54 3,-67 3,20 4,48 3,-12 3,49 4,-58 3,35 3,-10 3,3 4,-60 3,74 3,-77 4,32 3,45 3,-22 4,20 3,9 3,-42 3,34 4,26 3,-44 3,-26 4,76 3,-31 3,-5 4,11 3,53 3,17 3,-88 4,92 3,-121 3,58 4,-18 3,5 3,-30 4,58 3,-55 3,27 3,20 4,-7 3,21 3,-1 4,-23 3,11 3,0 4,20 3,-51 3,0 3,14 4,-28 3,34 3,-36 4,-11 3,55 3,-12 4,-44 3,14 3,-6 3,83 4,-54 3,-1 3,-16 4,14 3,35 3,-20 4,-10 3,6 3,24 3,-5 4,18 3,-93 3,56 4,-22 3,33 3,-42 4,33 3,15 3,-64 3,32 4,-32 3,36 3,-67 4,19 3,81 3,-25 4,-20 3,-26 3,-5 3,3 4,7 3,1 3,14 4,2 3,8 3,-30 4,71 3,-66 3,4 3,18 4,43 3,-54 3,7 4,-22 3,99 3,-72 4,-43 3,64 3,-11 3,-2 4,-8 3,-3 3,-7 4,-7 3,-37 3,68 4,-29 3,48 3,-2 3,-36 4,-21 3,-43 3,82 4,-9 3,-2 3,-26 4,-8 3,77 3,-82 3,65 4,-24 3,-40 3,100 4,-103 3,22 3,-10 4,17 3,-35 3,47"/>
<path class="c" transform="scale(.1)" stroke="#FF0000" stroke-width="70" d="M2728,16885l3,49 4,-7 3,104 3,-101 3,122 4,32 3,-103 3,161 4,-148 3,10 3,69 4,-71 3,48 3,-72 3,58 4,41 3,-83 3,140 4,12 3,-45 3,58 4,9 3,-81 3,93 3,-11 4,-46 3,74 3,-82 4,-61 3,172 3,-4 4,107 3,-126 3,82 3,-102 4,-8 3,59 3,41 4,-9 3,81 3,13 4,-143 3,57 3,154 3,-18 4,-145 3,35 3,180 4,-170 3,146 3,-188 4,122 3,-40 3,94 3,68 4,-39 3,44 3,20 4,39 3,-73 3,-130 4,30 3,160 3,-10 3,36 4,-79 3,-3 3,-78 4,54 3,67 3,-24 4,-51 3,196 3,-78 3,24 4,0 3,2 3,-52 4,126 3,-75 3,-18 4,146 3,-58 3,41 3,-141 4,229 3,-145 3,-8 4,53 3,-24 3,14 4,91 3,66 3,-92 3,25 4,14 3,16 3,-77 4,184 3,-175 3,57 4,171 3,-118 3,-43 3,77 4,131 3,-114 3,-60 4,88 3,13 3,-59 4,72 3,-135 3,164 3,-6 4,0 3,-35 3,123 4,-33 3,47 3,-107 4,87 3,64 3,-11 3,-130 4,59 3,-28 3,28 4,24 3,111 3,-5 4,-86 3,69 3,-74 3,-29 4,-26 3,71 3,175 4,-91 3,32 3,43 4,-160 3,110 3,28 3,84 4,-36 3,-106 3,10 4,128 3,6 3,-79 4,12 3,94 3,-68 3,104 4,-24 3,7 3,135 4,-148 3,-9 3,42 4,-85 3,172 3,-1 3,-25 4,-1 3,4 3,-76 4,85 3,13 3,54 4,-23 3,47 3,-11 3,-141 4,77 3,85 3,-51 4,31 3,54 3,-93 4,71 3,88 3,-77 3,-34 4,47 3,-12 3,-40 4,110 3,-26 3,-94 4,173 3,-107 3,63 3,28 4,-22 3,-52 3,-41 4,95 3,51 3,-69 4,54 3,99 3,-111 3,180 4,-86 3,-72 3,97 4,-24 3,93 3,-124 4,116 3,-83 3,89 3,74 4,-59 3,76 3,-73 4,78 3,-70 3,34 4,27 3,-65 3,42 3,29 4,133 3,-69 3,-55 4,9 3,69 3,-43 4,80 3,-55 3,13 3,106 4,-127 3,218 3,-141 4,-27 3,116 3,35 4,21 3,-30 3,-53 3,37 4,25 3,46 3,13 4,-4 3,16 3,-145 4,90 3,93 3,-73 3,26 4,-24 3,36 3,-20 4,-62 3,127 3,8 4,-59 3,-52 3,91 3,-41 4,117 3,-57 3,-62 4,51 3,130 3,-94 4,-25 3,32 3,-39 3,106 4,-104 3,105 3,28 4,2 3,-43 3,-7 4,30 3,19 3,23 3,-19 4,21 3,-26 3,-8 4,103 3,-24 3,24 4,55 3,-105 3,14 3,21 4,69 3,-101 3,45 4,80 3,-102 3,117 4,51 3,-45 3,-50 3,29 4,-15 3,53 3,57 4,13 3,-137 3,73 4,61 3,-21 3,-72 3,118 4,25 3,-16 3,7 4,56 3,-98 3,61 4,42 3,90 3,-122 3,77 4,53 3,-35 3,13 4,25 3,-129 3,111 4,-36 3,96 3,-42 3,-1 4,2 3,-57 3,104 4,-108 3,69 3,-2 4,66 3,-37 3,-32 3,75 4,54 3,-115 3,114 4,-83 3,27 3,9 4,-28 3,125 3,-28 3,-1 4,-77 3,97 3,-60 4,107 3,-130 3,116 4,-93 3,11 3,80 3,35 4,18 3,-60 3,0 4,70 3,-83 3,8 4,77 3,4 3,-9 3,57 4,-118 3,98 3,77 4,-100 3,-28 3,115 4,-21 3,36 3,-14 3,-41 4,18 3,-34 3,145 4,-119 3,32 3,-8 4,53 3,47 3,-76 3,45 4,17 3,62 3,-92 4,25 3,61 3,-123 4,62 3,7 3,-46 3,41 4,20 3,40 3,-5 4,-56 3,-13 3,81 4,-97 3,43 3,-21 3,-13 4,78 3,-62 3,37 4,80 3,19 3,-111 4,24 3,9 3,-12 3,113 4,-10 3,-8 3,-49 4,76 3,-14 3,-2 4,33 3,38 3,-48 3,-6 4,-18 3,102 3,-30 4,-97 3,95 3,32 4,-89 3,9 3,102 3,-48 4,-42 3,61 3,15 4,-47 3,8 3,35 4,-1 3,74 3,-14 3,-27 4,-40 3,6 3,-55 4,84 3,-7 3,-4 4,59 3,26 3,-110 3,92 4,9 3,-33 3,3 4,97 3,-29 3,59 4,-100 3,-4 3,36 3,48 4,22 3,29 3,-91 4,-25 3,94 3,0 4,-9 3,36 3,-80 3,-27 4,138 3,-61 3,-20 4,43 3,52 3,-70 4,59 3,-57 3,69 3,-60 4,39 3,-40 3,26 4,-10 3,-19 3,23 4,24 3,-24 3,-11 3,39 4,41 3,-50 3,-28 4,10 3,37 3,62 4,-91 3,82 3,-43 3,-12 4,9 3,64 3,-53 4,69 3,28 3,-98 4,-11 3,-14 3,83 3,-46 4,11 3,-3 3,77 4,-22 3,0 3,-78 4,33 3,30 3,-1 3,17 4,47 3,-30 3,7 4,-30 3,-7 3,0 4,15 3,-50 3,40 3,23 4,-15 3,19 3,-58 4,47 3,22 3,43 4,-32 3,-8 3,-8 3,23 4,-16 3,45 3,-40 4,44 3,-42 3,-26 4,3 3,82 3,-47 3,5 4,92 3,-111 3,39 4,-43 3,27 3,40 4,-27 3,74 3,-93 3,10 4,-22 3,49 3,-25 4,22 3,-20 3,44 4,-34 3,25 3,-5 3,-19 4,28 3,2 3,19 4,-79 3,116 3,-42 4,12 3,6 3,-60 3,71 4,-12 3,-23 3,45 4,-33 3,-22 3,63 4,-1 3,-12 3,-13 3,58 4,-68 3,28 3,-10 4,1 3,24 3,-44 4,49 3,-5 3,-18 3,-11 4,-19 3,49 3,52 4,-72 3,-8 3,10 4,31 3,9 3,-3 3,-12 4,-36 3,73 3,-41 4,25 3,-8 3,0 4,27 3,-19 3,64 3,-16 4,-15 3,-33 3,37 4,-11 3,15 3,-16 4,-30 3,5 3,32 3,32 4,-25 3,-13 3,17 4,29 3,-31 3,2 4,23 3,20 3,-56 3,28 4,14 3,-12 3,30 4,11 3,-48 3,90 4,-54 3,37 3,-25 3,-78 4,17 3,46 3,8 4,2 3,-78 3,40 4,35 3,24 3,-22 3,-58 4,25 3,7 3,-2 4,45 3,5 3,3 4,-71 3,-5 3,-6 3,39 4,11 3,-44 3,50 4,1 3,-13 3,21 4,-42 3,-1 3,77 3,-53 4,41 3,-47 3,-45 4,83 3,-51 3,13 4,53 3,-70 3,39 3,43 4,29 3,-89 3,36 4,-24 3,58 3,-50 4,55 3,-76 3,62 3,22 4,-24 3,-17 3,-15 4,-24 3,68 3,0 4,-16 3,-48 3,12 3,23 4,56 3,6 3,-26 4,-70 3,-18 3,63 4,14 3,36 3,-74 3,60 4,-42 3,28 3,-33 4,3 3,-2 3,12 4,-22 3,4 3,33 3,-44 4,26 3,-7 3,10 4,43 3,-57 3,70 4,-105 3,27 3,47 3,-88 4,53 3,17 3,-61 4,82 3,6 3,-61 4,-9 3,14 3,-5 3,-55 4,-10 3,59 3,-63 4,-19 3,-17 3,-9 4,16 3,1 0,0 3,1 3,11 4,4 3,10 3,3 4,9 3,28 3,-9 4,70 3,-12 3,5 3,71 4,-25 3,-49 3,17 4,30 3,-6 3,59 4,-11 3,8 3,10 3,-1 4,-76 3,14 3,13 4,46 3,-8 3,48 4,-15 3,2 3,-58 3,18 4,31 3,-60 3,12 4,72 3,9 3,-112 4,50 3,-33 3,-22 3,35 4,41 3,4 3,-9 4,32 3,-59 3,18 4,53 3,-18 3,-42 3,-10 4,39 3,6 3,6 4,-11 3,10 3,-19 4,18 3,-15 3,-16 3,40 4,-24 3,2 3,40 4,-5 3,45 3,-4 4,-58 3,4 3,-10 3,-20 4,83 3,-24 3,-35 4,67 3,-31 3,3 4,-34 3,-47 3,78 3,-39 4,-21 3,57 3,1 4,-43 3,25 3,15 4,-13 3,-18 3,58 3,-51 4,41 3,-36 3,-8 4,43 3,-56 3,25 4,2 3,13 3,-40 3,-51 4,-13 3,-12 3,5 4,14 3,-23 3,-26 4,-13 3,-46 3,-9 3,-27 4,30 3,-113 3,-38 4,-41 3,-51 3,6 4,-69 3,14 3,-33 3,0 0,0 4,9 3,21 3,-11 4,79 3,30 3,70 4,-11 3,43 3,-17 3,103 4,-16 3,74 3,70 4,-57 3,57 3,-4 4,15 3,-23 3,56 3,32 4,36 3,16 3,-42 4,37 3,-25 3,-18 4,16 3,41 3,-3 3,-66 4,65 3,-23 3,28 4,-12 3,-38 3,-2 4,37 3,3 3,4 3,-35 4,72 3,-98 3,98 4,-42 3,-9 3,63 4,-50 3,4 3,-16 3,29 4,-1 3,25 3,-11 4,-35 3,-22 3,2 4,-15 3,3 3,-12 3,17 4,-16 3,-38 3,14 4,-87 3,40 3,-83 4,26 3,4 3,-42 3,-71 4,-5 3,-31 3,-44 4,-11 3,-40 3,-16 4,-6 3,-1 0,0 3,1 3,22 4,-1 3,3 3,77 4,-3 3,33 3,25 4,77 3,31 3,37 3,-23 4,110 3,-63 3,4 4,39 3,-27 3,40 4,21 3,25 3,40 3,-17 4,-14 3,14 3,-30 4,75 3,-31 3,9 4,-25 3,-7 3,-3 3,4 4,8 3,39 3,-41 4,34 3,6 3,-13 4,12 3,-84 3,64 3,-23 4,46 3,-31 3,-24 4,5 3,-2 3,35 4,-67 3,9 3,-33 3,12 4,-10 3,-17 3,-22 4,35 3,-27 3,-31 4,-45 3,15 3,-22 3,3 4,-20 3,-19 3,1 3,-2 1,0 3,0 3,5 4,29 3,24 3,-53 3,83 4,34 3,9 3,-64 4,53 3,53 3,-2 4,-19 3,-3 3,37 3,28 4,-33 3,33 3,47 4,9 3,-23 3,37 4,-35 3,-9 3,3 3,-7 4,18 3,6 3,66 4,-27 3,30 3,-81 4,47 3,-30 3,-25 3,54 4,-33 3,38 3,37 4,-52 3,-4 3,-14 4,-21 3,35 3,-13 3,28 4,-11 3,19 3,7 4,20 3,-59 3,10 4,60 3,-12 3,-41 3,75 4,-113 3,48 3,3 4,22 3,-47 3,35 4,7 3,25 3,-80 3,32 4,1 3,42 3,26 4,-5 3,-62 3,25 4,-9 3,4 3,-16 3,24 4,-5 3,18 3,-18 4,62 3,-98 3,28 4,1 3,20 3,20 3,-24 4,57 3,-45 3,28 4,-38 3,-17 3,74 4,-76 3,-17 3,20 3,24 4,31 3,-42 3,1 4,14 3,13 3,-41 4,29 3,-22 3,26 3,1 4,13 3,20 3,-61 4,-11 3,26 3,-4 4,-3 3,18 3,-19 3,16 4,-24 3,-8 3,-23 4,35 3,-22 3,25 4,-23 3,-38 3,10 3,-20 4,-14 3,-49 3,25 4,-24 3,-59 3,16 4,-26 3,-74 3,-32 3,5 4,-23 3,-48 3,-65 4,-11 3,-9 3,-8 0,0 4,10 3,9 3,38 3,43 4,30 3,8 3,37 4,33 3,74 3,-4 4,34 3,-11 3,20 3,16 4,-26 3,-16 3,25 4,-31 3,-17 3,-23 4,-37 3,20 3,-55 3,-21 4,-13 3,-43 3,13 4,-17 3,-23 3,0 1,0 3,3 3,13 3,24 3,9 4,60 3,-36 3,54 4,85 3,-8 3,47 4,46 3,36 3,-55 3,25 4,15 3,12 3,36 4,-49 3,66 3,-7 4,43 3,-73 3,57 3,-24 4,-6 3,40 3,2 4,-55 3,55 3,-27 4,-3 3,-2 3,11 3,-13 4,18 3,-59 3,77 4,-16 3,-24 3,22 4,-18 3,15 3,7 3,-21 4,-77 3,82 3,-44 4,2 3,-54 3,-2 4,-23 3,-2 3,-21 3,-38 4,-33 3,-14 3,-27 4,-45 3,-49 3,-11 4,-28 3,-7 1,-1 2,1 3,7 4,1 3,90 3,-1 4,41 3,27 3,20 4,10 3,57 3,-7 3,65 4,44 3,35 3,-68 4,26 3,-3 3,-12 4,20 3,32 3,33 3,9 4,-50 3,41 3,-21 4,13 3,20 3,0 4,-1 3,-15 3,-1 3,-1 4,9 3,-18 3,13 4,-8 3,30 3,-59 4,14 3,11 3,-5 3,-54 4,80 3,9 3,-81 4,7 3,65 3,-73 4,38 3,-8 3,-10 3,16 4,-39 3,-17 3,22 4,6 3,5 3,11 4,11 3,-31 3,-22 3,6 4,-54 3,1 3,-15 4,-37 3,44 3,-71 4,-35 3,-16 3,38 3,-42 4,-68 3,-32 3,-124 4,-24 3,-19 3,-101 4,-73 3,-39 3,-12 3,-40 4,-110 3,-2 3,-52 4,-8 1,-1 2,3 3,29 4,32 3,32 3,79 3,7 4,94 3,93 3,28 4,106 3,-38 3,49 4,76 3,47 3,32 3,90 4,3 3,-8 3,34 4,52 3,-24 3,59 4,-22 3,38 3,20 3,-34 4,34 3,10 3,20 4,21 3,-15 3,-27 4,28 3,-9 3,20 3,32 4,1 3,8 3,-47 4,-20 3,20 3,24 4,-14 3,-14 3,28 3,32 4,-37 3,18 3,41 4,-65 3,34 3,-55 4,16 3,17 3,31 3,-23 4,-15 3,29 3,22 4,-1 3,-56 3,36 4,-29 3,31 3,10 3,-56 4,80 3,-102 3,49 4,-49 3,28 3,48 4,-10 3,11 3,-61 3,-22 4,-7 3,73 3,-41 4,-63 3,12 3,-19 4,10 3,-62 3,-54 3,0 4,7 3,-46 3,-54 4,-60 3,30 3,-61 4,-91 3,-39 3,25 3,-108 4,-4 3,-71 3,-29 4,-20 3,-6 0,0 3,6 4,38 3,11 3,34 3,91 4,-7 3,66 3,63 4,67 3,-29 3,63 4,5 3,115 3,26 3,39 4,19 3,-1 3,54 4,-25 3,20 3,29 4,46 3,-48 3,99 3,-68 4,-14 3,48 3,-20 4,41 3,8 3,-44 4,39 3,-25 3,20 3,-19 4,8 3,9 3,25 4,-49 3,25 3,14 4,-65 3,39 3,-45 3,6 4,-10 3,-33 3,30 4,-24 3,-49 3,-26 4,-20 3,-11 3,-24 3,-60 4,14 3,-22 3,-14 3,-3 1,0 3,5 3,4 4,16 3,73 3,-62 3,6 4,90 3,-48 3,52 4,32 3,-11 3,69 4,-19 3,13 3,-14 3,-1 4,26 3,58 3,-47 4,18 3,-1 3,-34 4,42 3,-32 3,-32 3,-3 4,63 3,31 3,-32 4,11 3,-57 3,-25 4,98 3,-20 3,-65 3,47 4,-7 3,-2 3,-22 4,37 3,9 3,-51 4,44 3,-45 3,55 3,-22 4,29 3,-10 3,-52 4,14 3,29 3,12 4,16 3,-60 3,27 3,61 4,-55 3,-26 3,-21 4,56 3,12 3,-42 4,41 3,8 3,9 3,-18 4,-23 3,-11 3,42 4,-57 3,74 3,-23 4,-24 3,-41 3,23 3,-19 4,8 3,36 3,41 4,-92 3,-1 3,68 4,-62 3,-3 3,-40 3,47 4,-56 3,0 3,-19 4,-5 3,-59 3,-62 4,-5 3,-62 3,-101 3,-24 4,-95 3,-31 3,-94 4,-88 3,-147 3,-31 4,-129 3,-88 3,-210 3,-97 4,-119 3,-73 3,-109 4,-50 3,-37 1,-3 2,4 4,32 3,60 3,84 3,134 4,112 3,106 3,78 4,77 3,92 3,99 4,83 3,47 3,34 3,48 4,93 3,-28 3,32 4,-14 3,12 3,-41 4,14 3,-77 3,-103 3,-29 4,-121 3,-69 3,-59 4,-212 3,-59 3,-175 4,-116 3,-220 3,-144 3,-234 4,-151 3,-250 3,-250 4,-149 3,-183 3,-105 4,-173 3,-67 3,-21 0,0 3,9 4,50 3,85 3,129 4,264 3,51 3,214 4,165 3,115 3,101 3,313 4,15 3,89 3,144 4,-5 3,50 3,78 4,-72 3,0 3,-69 3,21 4,-181 3,-62 3,12 4,-36 3,1 2,9 1,15 4,65 3,92 3,128 3,87 4,160 3,213 3,37 4,167 3,154 3,129 4,80 3,113 3,88 3,48 4,36 3,90 3,14 4,39 3,86 3,5 4,-23 3,2 3,44 3,42 4,18 3,-11 3,60 4,-59 3,-25 3,23 4,26 3,-18 3,-7 3,24 4,-11 3,11 3,-59 4,22 3,-4 3,-2 4,49 3,-40 3,-1 3,-48 4,23 3,21 3,-15 4,-36 3,40 3,-25 4,22 3,-21 3,-3 3,-70 4,-14 3,21 3,8 4,-78 3,-45 3,-79 4,22 3,-118 3,-78 3,-58 4,-96 3,-40 3,-68 4,-43 3,-22 1,-2 2,-2 4,-14 3,12 3,29 3,21 4,98 3,-109 3,94 4,24 3,55 3,8 4,8 3,54 3,2 3,95 4,-77 3,31 3,13 4,-25 3,-34 3,-17 4,-31 3,-56 3,-7 3,11 4,-57 3,-144 3,-1 4,-105 3,-84 3,-90 4,-49 3,-171 3,-107 3,-24 4,-250 3,-72 3,-87 4,-160 3,-153 3,-38 4,-171 3,-197 3,-115 3,-206 4,-160 3,-58 3,-126 4,-268 3,33 3,-83 4,-150 3,-146 3,-5 3,-46 4,-7 0,0 3,23 3,56 4,122 3,156 3,107 4,236 3,195 3,332 3,184 4,195 3,297 3,170 4,189 3,185 3,243 4,122 3,80 3,181 3,136 4,40 3,210 3,96 4,5 3,128 3,40 4,41 3,10 3,117 3,-11 4,-3 3,67 3,1 4,-10 3,59 3,3 4,-54 3,61 3,17 3,18 4,9 3,-26 3,1 4,-43 3,18 3,-28 4,26 3,-9 3,-74 3,-75 4,36 3,-18 3,-82 4,-85 3,11 3,-103 4,-29 3,-64 3,-29 3,-81 4,0 3,-29 3,-6 0,0 4,0 3,25 3,7 4,67 3,-8 3,135 3,32 4,73 3,27 3,10 4,116 3,43 3,43 4,-28 3,45 3,34 3,-13 4,33 3,16 3,33 4,-65 3,99 3,-31 4,7 3,-11 3,46 3,-5 4,-12 3,25 3,-39 4,38 3,-42 3,14 4,58 3,-64 3,-3 3,15 4,10 3,9 3,-12 4,-3 3,1 3,52 4,-97 3,49 3,14 3,-49 4,41 3,-2 3,-79 4,115 3,-25 3,-14 4,-35 3,17 3,-14 3,-1 4,48 3,-85 3,-3 4,43 3,37 3,-48 4,47 3,-38 3,16 3,1 4,10 3,6 3,-20 4,-22 3,-13 3,70 4,-24 3,16 3,-48 3,31 4,6 3,6 3,-40 4,31 3,-77 3,21 4,-29 3,-18 3,27 3,11 4,-61 3,-9 3,-19 4,-16 3,21 3,-13 4,-85 3,33 3,-19 3,-27 4,-13 3,3 2,-1 1,1 4,8 3,26 3,-7 4,34 3,8 3,42 3,-8 4,24 3,3 3,51 4,19 3,61 3,-23 4,-4 3,47 3,8 3,-30 4,24 3,-8 3,6 4,11 3,-5 3,-10 4,28 3,-25 3,-36 3,31 4,44 3,-22 3,4 4,-12 3,-30 3,-22 4,0 3,32 3,-12 3,7 4,-24 3,68 3,-84 4,53 3,-52 3,40 4,11 3,-9 3,-15 3,-32 4,-64 3,-12 3,43 4,10 3,-73 3,60 4,-45 3,-45 3,21 3,37 4,-98 3,2 3,-25 4,-56 3,9 3,-33 4,-78 3,-31 3,-114 3,-59 4,-155 3,-24 3,-160 4,-188 3,-71 3,-202 4,-138 3,-76 3,-156 3,-216 4,-159 3,-32 3,-105 4,-33 2,-12 1,1 3,42 4,67 3,83 3,112 3,158 4,166 3,82 3,195 4,159 3,76 3,136 4,179 3,39 3,190 3,56 4,63 3,30 3,41 4,86 3,44 3,52 4,-68 3,101 3,28 3,-27 4,45 3,-16 3,13 4,-19 3,72 3,-11 4,-7 3,5 3,26 3,37 4,5 3,-33 3,-25 4,44 3,-62 3,95 4,-19 3,-35 3,12 3,-13 4,34 3,-35 3,30 4,-19 3,-31 3,51 4,-11 3,-13 3,-10 3,21 4,1 3,-9 3,4 4,10 3,-18 3,48 4,-15 3,9 3,-43 3,12 4,16 3,-7 3,-18 4,0 3,33 3,9 4,18 3,-51 3,28 3,3 4,-15 3,-3 3,-3 4,24 3,1 3,-45 4,15 3,-13 3,29 3,-18 4,24 3,29 3,-51 4,43 3,-23 3,-10 4,1 3,1 3,22 3,32 4,-49 3,-12 3,41 4,-15 3,-40 3,42 4,-33 3,15 3,11 3,-36 4,8 3,15 3,-56 4,27 3,-44 3,53 4,-16 3,-30 3,2 3,-36 4,37 3,-31 3,17 4,12 3,-51 3,-30 4,55 3,-69 3,37 3,-33 4,5 3,-57 3,-34 4,11 3,-4 3,-6 2,-2 2,1 3,1 3,14 3,38 4,18 3,3 3,5 4,26 3,27 3,-18 4,13 3,20 3,16 3,-48 4,52 3,6 3,16 4,-9 3,53 3,-1 4,-14 3,65 3,-35 3,17 4,-21 3,10 3,16 4,-45 3,-18 3,98 4,-98 3,11 3,32 3,-9 4,21 3,41 3,-20 4,-78 3,41 3,22 4,-11 3,-50 3,36 3,46 4,-31 3,-16 3,-23 4,62 3,31 3,-83 4,47 3,-27 3,-34 3,-12 4,48 3,-15 3,-18 4,25 3,3 3,47 4,-66 3,-18 3,-9 3,41 4,7 3,-28 3,31 4,-25 3,-11 3,-8 4,13 3,4 3,-19 3,-21 4,-4 3,60 3,-51 4,62 3,-94 3,31 4,-12 3,-34 3,-21 3,18 4,50 3,-69 3,25 4,-7 3,-5 3,-92 4,31 3,-54 3,60 3,-4 4,-2 3,-23 3,2 4,-18 3,-30 3,2 4,-50 3,16 3,-16 3,4 4,0 0,0 3,0 3,9 4,1 3,37 3,0 4,-22 3,57 3,-7 3,0 4,69 3,-38 3,-7 4,-34 3,31 3,81 4,-82 3,102 3,-55 3,8 4,68 3,-73 3,38 4,-4 3,23 3,43 4,23 3,-98 3,21 3,94 4,-39 3,37 3,-2 4,-50 3,-24 3,49 4,-12 3,32 3,-30 3,49 4,-107 3,-1 3,34 4,-19 3,37 3,-24 4,58 3,-32 3,9 3,-28 4,15 3,-11 3,-16 4,34 3,-64 3,42 4,-6 3,52 3,-45 3,-42 4,44 3,14 3,2 4,11 3,-4 3,-9 4,24 3,-50 3,24 3,-12 4,4 3,2 3,-25 4,0 3,7 3,-66 4,71 3,15 3,-34 3,-8 4,3 3,36 3,-49 4,42 3,-73 3,20 4,59 3,-63 3,-30 3,46 4,-26 3,8 3,12 4,-35 3,21 3,-27 4,1 3,-17 3,-41 3,4 4,-5 3,32 3,-61 4,-20 3,21 3,2 4,-36 3,-31 3,-56 3,43 4,2 3,-64 3,-7 4,-57 3,-17 3,3 4,-34 3,-2 3,-34 3,-48 4,-30 3,15 3,-84 4,35 3,-53 3,-59 4,-5 3,1 3,70 3,-96 4,-42 3,38 3,-36 4,-1 3,-3 0,0 3,2 4,-2 3,-14 3,24 3,52 4,27 3,-69 3,106 4,-52 3,-20 3,81 4,-7 3,-47 3,25 3,39 4,17 3,-56 3,77 4,-75 3,-8 3,49 4,7 3,-42 3,7 3,11 4,9 1,4 2,8 3,10 4,-3 3,58 3,-1 4,70 3,-15 3,92 3,-4 4,57 3,-44 3,50 4,32 3,103 3,-21 4,-6 3,-30 3,55 3,87 4,-41 3,46 3,-56 4,71 3,28 3,-11 4,-37 3,1 3,52 3,-47 4,-11 3,46 3,-39 4,-5 3,24 3,-3 4,-44 3,34 3,28 3,-25 4,0 3,-13 3,-40 4,-6 3,-48 3,-8 4,-4 3,-12 3,20 3,-15 3,-3 1,0 3,3 3,10 4,9 3,22 3,-46 4,14 3,26 3,51 3,-16 4,8 3,5 3,41 4,-3 3,40 3,22 4,-29 3,-37 3,-4 3,38 4,15 3,0 3,11 4,-5 3,41 3,-37 4,39 3,-29 3,-15 3,13 4,-18 3,18 3,-68 4,63 3,23 3,1 4,-58 3,-16 3,61 3,-84 4,28 3,-18 3,5 4,4 3,-3 3,-119 4,28 3,-76 3,15 3,-52 4,11 3,-37 3,-3 4,-21 3,-38 3,-13 4,-19 3,-20 3,-3 0,0 3,2 4,19 3,37 3,-1 4,-21 3,47 3,58 4,23 3,-5 3,60 3,22 4,-26 3,33 3,66 4,-32 3,33 3,52 4,-5 3,1 3,-54 3,15 4,20 3,-4 3,19 4,-8 3,2 3,3 4,-58 3,-37 3,45 3,-35 4,-12 3,-32 3,-2 4,38 3,-80 3,22 4,-10 2,-3 1,-1 3,0 3,-3 4,4 3,-1 3,61 4,-9 3,-8 3,0 4,-26 3,-27 3,58 3,-40 4,10 3,-15 3,9 4,-6 3,49 3,-3 4,-48 3,8 3,-16 3,3 4,-2 3,3 0,0 3,-1 4,26 3,-5 3,8 4,26 3,3 3,34 3,-43 4,27 3,72 3,-18 4,-18 3,-8 3,103 4,-14 3,-7 3,-53 3,29 4,-11 3,-19 3,41 4,5 3,72 3,-102 4,65 3,-23 3,5 3,-24 4,17 3,-43 3,26 4,-28 3,-68 3,2 4,41 3,-27 3,-108 3,7 4,10 3,-75 3,-77 4,2 3,-60 3,-107 4,29 3,-55 3,-28 3,-9 4,-47 3,-46 3,-33 4,-19 1,-1 2,1 3,9 4,25 3,8 3,61 3,72 4,-17 3,43 3,29 4,-11 3,104 3,40 4,53 3,4 3,100 3,18 4,53 3,-107 3,73 4,57 3,9 3,12 4,-2 3,42 3,-36 3,11 4,73 3,-70 3,39 4,-26 3,17 3,-27 4,23 3,1 3,-48 3,-21 4,-14 3,-22 3,60 4,-6 3,-133 3,12 4,6 3,-1 3,-95 3,-7 4,-8 3,-6 3,-91 4,32 3,-96 3,28 4,-74 3,-14 3,-3 3,-20 4,-8 1,-1 2,0 3,15 4,31 3,-1 3,24 4,-11 3,114 3,-45 3,56 4,62 3,-92 3,91 4,-7 3,54 3,37 4,-27 3,102 3,49 3,-62 4,23 3,65 3,-29 4,-37 3,60 3,-30 4,66 3,-54 3,69 3,-79 4,37 3,-55 3,132 4,-62 3,-8 3,23 4,-7 3,11 3,51 3,-15 4,-64 3,23 3,-13 4,17 3,-48 3,20 4,-36 3,62 3,-37 3,55 4,-31 3,-50 3,95 4,-117 3,126 3,-14 4,-5 3,0 3,-22 3,-47 4,-27 3,16 3,-87 4,69 3,-32 3,-11 4,-45 3,-59 3,22 3,-50 4,-36 3,-24 3,-15 4,-29 3,-138 3,0 4,-131 3,-24 3,-49 3,-17 4,-39 3,-30 3,-41 4,-26 3,-14 2,0 1,1 4,15 3,16 3,82 3,-35 4,92 3,70 3,-5 4,57 3,124 3,23 4,25 3,15 3,43 3,3 4,146 3,-20 3,49 4,50 3,4 3,-9 4,66 3,-87 3,110 3,-15 4,-10 3,28 3,17 4,-55 3,29 3,-25 4,2 3,21 3,-50 3,-34 4,6 3,40 3,-29 4,-41 3,-1 3,-86 4,-45 3,-36 3,8 3,-29 4,-65 3,25 3,-39 4,-15 1,-1 2,0 3,8 4,-4 3,35 3,20 3,21 4,71 3,-60 3,65 4,-14 3,68 3,25 4,84 3,-86 3,52 3,1 4,18 3,-16 3,-9 4,22 3,0 3,58 4,-35 3,52 3,-75 3,-29 4,36 3,4 3,74 4,-105 3,57 3,-42 4,-15 3,45 3,-57 3,73 4,-47 3,-3 3,-42 4,10 3,8 3,-70 4,11 3,-42 3,5 3,2 4,-87 3,46 3,-40 4,29 3,-91 3,5 4,-21 3,24 3,-67 3,28 4,-56 3,-98 3,-49 4,6 3,-7 3,-68 4,-72 3,17 3,-73 3,-64 4,0 3,-63 3,-103 4,14 3,-24 3,-98 4,-77 3,43 3,-30 3,-102 4,-29 3,-89 3,-9 4,-110 3,5 3,-15 4,-78 3,-14 3,-24 3,25 4,-112 3,-60 3,13 4,-7 3,27 3,1 4,-14 2,2 1,0 3,-6 3,-5 4,-21 3,69 3,-4 4,-57 3,82 3,-44 4,108 3,55 3,-96 3,108 4,43 3,146 3,-29 4,46 3,6 3,54 4,63 3,18 3,59 3,9 4,-9 3,99 3,25 4,-31 3,46 3,43 4,104 3,-15 3,55 3,-136 4,105 3,50 3,-81 4,29 3,-66 3,37 4,-37 3,-81 3,79 3,-68 4,-13 3,-91 3,51 4,-39 3,6 3,4 1,3 3,16 3,33 3,33 3,15 4,95 3,109 3,64 4,-1 3,120 3,2 4,15 3,89 3,49 3,76 4,-74 3,150 3,18 4,18 3,-45 3,16 4,103 3,-28 3,56 3,-60 4,70 3,4 3,-52 4,41 3,74 3,-77 4,67 3,-31 3,-26 3,17 4,-13 3,93 3,-103 4,14 3,41 3,34 4,-72 3,16 3,22 3,-2 4,14 3,-22 3,21 4,25 3,-59 3,-13 4,28 3,29 3,68 3,-44 4,-10 3,-85 3,10 4,80 3,-37 3,-4 4,48 3,13 3,-19 3,-11 4,-63 3,51 3,34 4,-33 3,-41 3,-21 4,56 3,28 3,-42 3,17 4,19 3,-30 3,12 4,-16 3,-5 3,38 4,1 3,-26 3,-39 3,57 4,11 3,-5 3,-2 4,-24 3,-10 3,22 4,-2 3,-4 3,-52 3,-37 4,64 3,-9 3,-11 4,-4 3,-80 3,15 4,24 3,-57 3,-11 3,29 4,-50 3,-72 3,-5 4,-69 3,5 3,-101 4,-49 3,75 3,-57 3,-100 4,6 3,-84 3,17 4,-12 3,-8 0,0 3,5 4,17 3,57 3,-24 3,49 4,52 3,-22 3,122 4,-86 3,96 3,28 4,46 3,-9 3,61 3,50 4,-12 3,80 3,-72 4,79 3,73 3,-66 4,46 3,-2 3,4 3,47 4,-55 3,65 3,-55 4,40 3,36 3,-39 4,21 3,70 3,-64 3,5 4,11 3,-4 3,-20 4,-13 3,12 3,-1 4,24 3,-47 3,13 3,26 4,-128 3,30 3,-17 4,-16 3,30 3,-79 4,-11 3,21 3,-160 3,-4 4,-31 3,4 3,-18 4,-86 3,43 3,-31 4,-103 3,-17 3,-23 3,-4 4,-10 0,0 3,4 3,7 4,2 3,-18 3,94 4,36 3,14 3,-2 3,98 4,-12 3,53 3,29 4,29 3,8 3,-61 4,81 3,-5 3,-7 3,-8 4,0 3,14 3,1 4,3 3,-79 3,19 4,36 3,-7 3,-73 3,-35 4,53 3,-139 3,36 4,-47 3,-61 3,-18 4,-61 3,-77 3,-14 3,4 4,-102 3,-19 3,-25 4,-31 2,-5 1,-2 3,-3 4,-6 3,40 3,-22 3,51 4,5 3,35 3,-27 4,97 3,-18 3,16 4,-4 3,62 3,-25 3,-2 4,31 3,-83 3,127 4,-66 3,47 3,-86 4,-29 3,36 3,30 3,5 4,-7 3,-1 0,0 3,2 4,12 3,20 3,-25 4,12 3,3 3,113 3,-57 4,69 3,14 3,37 4,-54 3,77 3,48 4,6 3,-21 3,54 3,-7 4,-10 3,23 3,83 4,-88 3,-31 3,83 4,7 3,-7 3,-19 3,41 4,36 3,-16 3,-123 4,45 3,39 3,-83 4,139 3,-34 3,-54 3,-7 4,77 3,-51 3,23 4,-47 3,-2 3,23 4,17 3,27 3,-48 3,43 4,-46 3,-18 3,11 4,-6 3,-33 3,-27 4,77 3,-19 3,10 3,-91 4,33 3,-47 3,83 4,1 3,-51 3,16 4,-117 3,35 3,0 3,0 4,-27 3,10 3,-17 4,-9 3,9 3,-3 1,0 3,2 3,-8 3,5 3,64 4,-39 3,35 3,-24 4,69 3,-21 3,49 4,11 3,-49 3,44 3,36 4,-47 3,48 3,0 4,39 3,-51 3,59 4,22 3,-43 3,9 3,44 4,-39 3,39 3,27 4,-84 3,63 3,27 4,-91 3,57 3,8 3,-31 4,21 3,-47 3,33 4,-32 3,45 3,-31 4,-5 3,23 3,-28 3,-45 4,2 3,-27 3,32 4,14 3,11 3,-51 4,-59 3,29 3,-40 3,0 4,5 2,1 1,0 3,6 4,3 3,45 3,-24 4,0 3,-12 3,22 3,49 4,-45 3,-20 3,73 4,24 3,7 3,6 4,-9 3,-15 3,109 3,-20 4,-7 3,-25 3,-7 4,21 3,32 3,-17 4,-3 3,21 3,-42 3,-7 4,16 3,5 3,65 4,12 3,-114 3,5 4,24 3,-72 3,40 3,59 4,-79 3,0 3,44 4,14 3,-81 3,-5 4,-2 3,9 3,-106 3,57 4,-35 3,9 3,-4 4,-45 3,25 3,-6 1,0 3,0 3,3 3,30 3,-12 4,12 3,-8 3,25 4,-45 3,69 3,-10 4,33 3,11 3,-71 3,74 4,18 3,18 3,-98 4,88 3,-56 3,27 4,40 3,10 3,-13 3,-13 4,-1 3,42 3,3 4,-24 3,-65 3,-18 4,22 3,37 3,42 3,-42 4,-7 3,11 3,-6 4,-9 3,-14 3,-1 4,14 3,4 3,-24 3,45 4,-72 3,51 3,-46 4,41 3,-62 3,29 4,29 3,-11 3,-63 3,2 4,-26 3,22 3,-48 4,34 3,-21 3,19 4,-12 3,1 3,-2 3,26 4,-43 3,-9 3,29 4,-40 3,16 3,1 0,0 4,2 3,5 3,-3 3,14 4,40 3,-95 3,31 4,54 3,-40 3,64 4,7 3,18 3,-93 3,70 4,37 3,-48 3,56 4,-41 3,-28 3,104 4,-107 3,57 3,-6 3,-14 4,1 3,-40 3,71 4,-47 3,104 3,-81 4,-43 3,69 3,17 3,9 4,-54 3,10 3,-4 4,24 3,28 3,-16 4,-49 3,7 3,1 3,-19 4,-18 3,21 3,33 4,-1 3,-57 3,47 4,-19 3,18 3,13 3,-9 4,15 3,-9 3,4 4,-35 3,-57 3,-19 4,69 3,-3 3,-49 3,3 4,-26 3,117 3,-119 4,-1 3,94 3,10 4,-50 3,38 3,2 3,-40 4,102 3,-59 3,-3 4,-12 3,16 3,-47 4,32 3,10 3,8 3,-22 4,23 3,-24 3,68 4,-88 3,-8 3,50 4,27 3,-44 3,23 3,-3 4,12 3,42 3,-91 4,11 3,26 3,-12 4,22 3,46 3,-38 3,-41 4,42 3,-7 3,48 4,-107 3,44 3,23 4,-8 3,-24 3,-33 3,-9 4,-4 3,41 3,9 4,-28 3,-13 3,29 4,-61 3,132 3,-103 3,36 4,-9 3,1 3,13 4,-48 3,108 3,-58 4,-61 3,107 3,-25 3,-25 4,12 3,-36 3,105 4,-67 3,-25 3,-37 4,21 3,-33 3,58 3,-14 4,-16 3,20 3,18 4,-15 3,-23 3,40 4,-31 3,11 3,-16 3,-12 4,80 3,-99 3,-38 4,10 3,15 3,107 4,10 3,-147 3,104 3,-34 4,74 3,-53 3,-33 4,54 3,-25 3,-1 4,-67 3,76 3,-3 3,-4 4,-11 3,24 3,-21 4,-42 3,58 3,-64 4,59 3,-4 3,57 3,-32 4,7 3,-7 3,-53 4,41 3,2 3,-75 4,21 3,71 3,4 3,4 4,-21 3,-124 3,42 4,-35 3,6 3,75 4,-44 3,-10 3,-4 3,2 4,-16 3,-7 3,81 4,-37 3,-61 3,41 4,19 3,-30 3,48 3,-40 4,32 3,8 3,-19 4,-17 3,32 3,13 4,16 3,-36 3,-72 3,104 4,-110 3,16 3,118 4,-68 3,63 3,-76 4,-7 3,-79 3,79 3,25 4,-12 3,66 3,-47 4,-13 3,20 3,-22 4,4 3,-51 3,-43 3,58 4,-7 3,23 3,18 4,-32 3,-49 3,55 4,23 3,-75 3,70 3,-59 4,5 3,69 3,-59 4,34 3,-8 3,-21 4,55 3,-47 3,11 3,-27 4,-87 3,-13 3,52 4,13 3,50 3,-35 4,-64 3,5 3,-7 3,-8 4,-21 3,-69 3,29 4,-33 3,-64 3,41 4,-71 3,-26 3,-103 3,-141 4,71 3,-125 3,-56 4,-46 3,-39 3,-9 4,-25 2,-6 1,-1 3,1 3,-1 4,26 3,71 3,-10 4,54 3,59 3,-53 4,165 3,49 3,-113 3,99 4,50 3,-12 3,46 4,-23 3,7 3,38 4,-24 3,19 3,-57 3,2 4,-10 3,12 3,14 4,-69 3,-23 3,-36 4,53 3,-68 3,-47 3,21 4,-38 3,12 3,-53 4,-23 3,-71 3,-38 4,66 3,-101 3,-80 3,57 4,-47 3,-46 3,-68 4,0 3,-31 3,-132 4,62 3,-109 3,113 3,-81 4,-112 3,-21 3,-23 4,-52 3,-21 3,-64 4,111 3,-87 3,-54 3,45 4,-96 3,99 3,-144 4,69 3,-88 3,5 4,-2 1,-1 2,0 3,12 3,-35 4,7 3,71 3,-9 4,92 3,-34 3,66 4,-30 3,-30 3,143 3,-108 4,14 3,120 3,-22 4,32 3,23 3,105 4,-80 3,17 3,90 3,-28 4,106 3,51 3,74 4,-64 3,-6 3,61 4,117 3,-12 3,106 3,-85 4,48 3,102 3,-75 4,25 3,61 3,31 4,24 3,0 3,41 3,12 4,-18 3,79 3,34 4,30 3,-74 3,9 4,7 3,30 3,-23 3,73 4,110 3,-85 3,28 4,-26 3,41 3,5 4,34 3,4 3,-40 3,96 4,31 3,-74 3,23 4,6 3,40 3,52 4,-74 3,-2 3,121 3,-40 4,14 3,-63 3,67 4,19 3,-45 3,-36 4,132 3,-59 3,-48 3,18 4,31 3,-40 3,2 4,11 3,45 3,10 4,-16 3,-30 3,52 3,-22 4,-60 3,59 3,-9 4,-39 3,14 3,-41 4,22 3,7 3,16 3,16 4,-4 3,-26 3,-23 4,-22 3,33 3,29 4,-14 3,-106 3,78 3,-26 4,22 3,-10 3,25 4,-11 3,-28 3,-15 4,-6 2,2 1,0 3,6 3,-7 4,24 3,33 3,-24 4,-24 3,48 3,-28 4,-52 3,94 3,-71 3,28 4,82 3,-2 3,-55 4,-15 3,22 3,40 4,-56 3,50 3,-92 3,111 4,-80 3,13 3,68 4,1 3,-28 3,-13 4,91 3,-121 3,69 3,-4 4,18 3,-26 3,22 4,0 3,-25 3,33 4,9 3,0 3,34 3,-60 4,55 3,-29 3,-11 4,73 3,-35 3,-73 4,52 3,8 3,42 3,-73 4,-7 3,3 3,44 4,-87 3,-4 3,-10 4,30 3,28 3,-47 3,88 4,-45 3,-53 3,-9 4,-1 3,17 3,-83 4,97 3,7 3,-114 3,-8 4,37 3,0 3,-12 4,-49 3,30 3,-39 4,1 3,39 3,-91 3,69 4,-81 3,-13 3,-3 4,17 3,42 3,-43 4,21 3,34 3,-136 3,-10 4,12 3,-92 3,106 4,-70 3,15 3,-43 4,13 3,-79 3,83 3,-54 4,-3 3,-1 1,-1 2,1 4,1 3,44 3,-35 4,-25 3,50 3,-33 3,53 4,5 3,42 3,7 4,10 3,42 3,-9 4,-54 3,45 3,3 3,118 4,-27 3,-19 3,-52 4,58 3,74 3,-67 4,-27 3,64 3,-60 3,41 4,-17 3,-23 3,87 4,-149 3,104 3,-33 4,-7 3,-29 3,59 3,-61 4,-114 3,93 3,-38 4,19 3,-9 3,-66 4,2 3,-8 3,7 3,10 4,14 3,-50 3,-12 4,1 3,3 1,0 2,-1 4,5 3,-12 3,-4 3,22 4,13 3,21 3,-9 4,-34 3,12 3,-43 4,42 3,31 3,92 3,-53 4,77 3,-62 3,63 4,-1 3,8 3,-23 4,43 3,58 3,-37 3,-33 4,5 3,48 3,-14 4,13 3,7 3,70 4,-33 3,-30 3,-5 3,24 4,95 3,-90 3,-74 4,74 3,32 3,-45 4,35 3,76 3,-37 3,-5 4,-88 3,36 3,7 4,3 3,74 3,-17 4,-69 3,27 3,-61 3,70 4,-110 3,109 3,-86 4,108 3,-27 3,-64 4,-5 3,-38 3,1 3,-6 4,0 3,50 3,-50 4,45 3,-53 3,14 4,2 3,-18 3,-55 3,74 4,-95 3,57 3,-14 4,-39 3,0 3,-2 4,55 3,-90 3,-56 3,50 4,-16 3,-75 3,7 4,-15 3,-188 3,78 4,-100 3,-63 3,-42 3,-42 4,-101 3,-42 3,-101 4,0 3,-60 3,-95 4,-37 3,3 3,-93 3,5 4,-18 1,-2 2,2 3,-7 4,65 3,-31 3,121 4,57 3,-23 3,119 3,57 4,47 3,51 3,76 4,-28 3,42 3,178 4,-64 3,48 3,108 3,-5 4,35 3,39 3,92 4,-18 3,-1 3,102 4,-56 3,-1 3,43 3,-42 4,-28 3,24 3,23 4,87 3,-12 3,-135 4,34 3,56 3,9 3,-3 4,-18 3,64 3,-33 4,-51 3,41 3,32 4,5 3,-46 3,-30 3,119 4,-93 3,22 3,-37 4,113 3,-25 3,-87 4,50 3,-43 3,38 3,-14 4,2 3,50 3,-116 4,54 3,-56 3,70 4,-71 3,115 3,-54 3,-103 4,83 3,-70 3,71 4,-16 3,-59 3,53 4,15 3,30 3,-82 3,88 4,-41 3,-41 3,40 4,-39 3,16 3,39 4,0 3,-19 3,-91 3,23 4,20 3,-22 3,-11 4,-39 3,-50 3,8 4,-66 3,68 3,18 3,-85 4,60 3,-46 3,-42 4,10 3,-9 3,-3 0,0 4,4 3,3 3,28 3,-25 4,34 3,-6 3,61 4,50 3,-87 3,40 4,-6 3,55 3,45 3,50 4,-71 3,57 3,-14 4,14 3,-36 3,-5 4,58 3,20 3,-37 3,50 4,-51 3,61 3,-8 4,-25 3,-5 3,40 4,2 3,-25 3,-32 3,81 4,-18 3,-97 3,38 4,42 3,1 3,-72 4,42 3,2 3,92 3,-98 4,19 3,-29 3,56 4,-43 3,27 3,-97 4,102 3,7 3,5 3,-98 4,58 3,49 3,-34 4,-7 3,-5 3,-2 4,6 3,6 3,12 3,-45 4,-3 3,32 3,34 4,-34 3,51 3,-164 4,74 3,-1 3,-53 3,16 4,24 3,26 3,-107 4,86 3,-48 3,13 4,-40 3,-46 3,82 3,-128 4,35 3,-47 3,18 4,-17 3,-3 1,-2 2,-1 4,4 3,-24 3,-9 3,-26 4,31 3,-2 3,72 4,27 3,-70 3,22 4,-41 3,45 3,44 3,14 4,-63 3,79 3,-20 4,-7 3,28 3,-59 4,-16 3,70 3,39 3,4 4,-159 3,105 3,-30 4,-44 3,66 3,0 4,34 3,-120 3,35 3,34 4,89 3,6 3,-34 4,6 3,-64 3,20 4,9 3,-18 3,-32 3,73 4,17 3,-128 3,65 4,95 3,-124 3,4 4,-2 3,-39 3,142 3,-18 4,-44 3,87 3,-156 4,69 3,15 3,-34 4,33 3,5 3,-28 3,63 4,29 3,-96 3,19 4,-21 3,-55 3,64 4,22 3,69 3,-90 3,3 4,83 3,-76 3,47 4,-52 3,-65 3,47 4,-8 3,63 3,-17 3,96 4,-143 3,27 3,19 4,92 3,-144 3,134 4,-137 3,21 3,92 3,-115 4,-8 3,37 3,38 4,-85 3,60 3,-58 4,-34 3,68 3,71 3,-41 4,-88 3,-12 3,64 4,7 3,-80 3,104 4,-68 3,31 3,16 3,9 4,-37 3,-24 3,-31 4,40 3,70 3,-110 4,-9 3,-34 3,101 3,-31 4,-38 3,83 3,-17 4,-13 3,-46 3,56 4,-81 3,45 3,50 3,-22 4,-54 3,2 3,-4 4,-25 3,13 3,-18 4,-19 3,39 3,-89 3,9 4,0 3,3 3,-60 4,116 3,28 3,11 4,-167 3,46 3,-27 3,12 4,43 3,-51 3,-61 4,65 3,88 3,-83 4,66 3,-76 3,20 3,59 4,-140 3,129 3,-9 4,-85 3,56 3,-54 4,32 3,-20 3,-48 3,117 4,-5 3,-71 3,36 4,-8 3,-50 3,87 4,-47 3,-100 3,-41 3,74 4,37 3,-18 3,-12 4,-27 3,18 3,66 4,-11 3,-57 3,-12 3,64 4,-75 3,52 3,-7 4,-57 3,26 3,11 4,-44 3,-34 3,55 3,-11 4,42 3,-37 3,10 4,-124 3,33 3,65 4,6 3,-108 3,48 3,63 4,-129 3,-33 3,57 4,69 3,-73 3,1 4,9 3,-87 3,5 3,-59 4,37 3,-23 3,-12 4,-46 3,32 3,-83 4,42 3,27 3,-108 3,22 4,-81 3,15 3,43 4,-96 3,3 3,-66 4,37 3,71 3,-6 3,-20 4,-35 3,15 3,1 1,0 3,0 3,11 3,-33 4,37 3,13 3,-59 3,26 4,103 3,-31 3,-72 4,63 3,12 3,11 4,69 3,14 3,40 3,-105 4,111 3,-74 3,106 4,5 3,57 3,-23 4,-30 3,39 3,36 3,-107 4,43 3,71 3,30 4,15 3,-71 3,119 4,-48 3,36 3,5 3,-40 4,-13 3,142 3,-77 4,82 3,-126 3,26 4,-4 3,87 3,-48 3,-34 4,79 3,-83 3,-30 4,36 3,-6 3,-1 4,16 3,-44 3,65 3,-36 4,52 3,-1 3,-14 4,-30 3,16 3,-17 4,21 3,50 3,11 3,13 4,-51 3,44 3,-120 4,145 3,-22 3,-81 4,47 3,10 3,-31 3,-6 4,-1 3,26 3,-16 4,-28 3,64 3,6 4,-17 3,11 3,62 3,-60 4,-39 3,-28 3,41 4,29 3,-85 3,56 4,-63 3,-40 3,45 3,88 4,-67 3,-60 3,70 4,8 3,-8 3,-75 4,94 3,-74 3,120 3,-165 4,36 3,25 3,-42 4,50 3,-44 3,0 4,71 3,-102 3,117 3,-41 4,-75 3,115 3,28 4,-80 3,91 3,-59 4,-3 3,36 3,-89 3,71 4,-53 3,31 3,2 4,-65 3,60 3,-33 4,39 3,-1 3,-56 3,14 4,117 3,5 3,-83 4,25 3,6 3,-73 4,100 3,-41 3,-16 3,67 4,-43 3,-80 3,42 4,-4 3,-14 3,9 4,2 3,3 3,107 3,-68 4,32 3,7 3,28 4,-63 3,-6 3,15 4,-71 3,27 3,85 3,-25 4,-40 3,-19 3,44 4,-98 3,30 3,122 4,-62 3,-13 3,-41 3,21 4,-35 3,57 3,-6 4,-20 3,71 3,-44 4,-98 3,96 3,53 3,-88 4,54 3,-42 3,-52 4,6 3,5 3,-45 4,59 3,-36 3,111 3,-73 4,-57 3,-8 3,116 4,-62 3,-57 3,28 4,33 3,-12 3,87 3,-82 4,-48 3,-76 3,113 4,-12 3,-34 3,41 4,-47 3,2 3,81 3,-163 4,90 3,-5 3,-86 4,124 3,-185 3,90 4,-80 3,-13 3,52 3,-25 4,34 3,-31 3,-27 4,-1 3,-26 3,49 4,38 3,-63 3,-3 3,15 4,-94 3,-7 3,71 4,62 3,18 3,-14 4,-49 3,-25 3,21 3,-29 4,25 3,20 3,-34 4,-69 3,151 3,33 4,-145 3,-11 3,106 3,-129 4,23 3,71 3,78 4,-54 3,-115 3,160 4,-143 3,67 3,-103 3,96 4,-6 3,-86 3,0 4,107 3,-11 3,-75 4,38 3,26 3,-69 3,-33 4,84 3,1 3,27 4,-60 3,1 3,6 4,37 3,67 3,-53 3,-35 4,99 3,-74 3,56 4,38 3,12 3,-117 4,-11 3,1 3,53 3,43 4,-109 3,37 3,6 4,-15 3,53 3,57 4,-106 3,-9 3,-12 3,21 4,44 3,-64 3,83 4,-69 3,-51 3,35 4,35 3,-36 3,-50 3,68 4,-66 3,16 3,54 4,-4 3,-19 3,-59 4,104 3,-93 3,120 3,-144 4,-12 3,32 3,52 4,-101 3,67 3,-65 4,44 3,49 3,-2 3,-85 4,46 3,11 3,-53 4,2 3,20 3,15 4,-9 3,98 3,-135 3,12 4,62 3,-33 3,-132 4,96 3,57 3,-50 4,-35 3,37 3,56 3,-48 4,-56 3,-13 3,-20 4,80 3,39 3,-34 4,44 3,-90 3,105 3,-155 4,116 3,-64 3,-8 4,-37 3,18 3,55 4,-77 3,48 3,-55 3,-59 4,115 3,-68 3,24 4,74 3,-4 3,-123 4,38 3,45 3,-69 3,-61 4,125 3,42 3,-76 4,-60 3,-35 3,14 4,10 3,-2 3,-32 3,7 4,69 3,-56 3,10 4,-3 3,54 3,-6 4,-65 3,-86 3,135 3,-39 4,-53 3,67 3,-53 4,-36 3,116 3,-16 4,-211 3,177 3,-81 3,97 4,-157 3,85 3,-55 4,23 3,3 3,29 4,-79 3,24 3,43 3,-55 4,56 3,-64 3,65 4,-64 3,-17 3,75 4,90 3,-26 3,29 3,-38 4,-20 3,37 3,-83 4,55 3,-34 3,109 4,-41 3,-43 3,29 3,47 4,-48 3,14 3,20 4,-30 3,113 3,-92 4,-54 3,2 3,136 3,-103 4,-66 3,-39 3,117 4,73 3,-80 3,-49 4,69 3,-80 3,-4 3,0 4,-20 3,-47 3,77 4,95 3,-186 3,14 4,80 3,-43 3,8 3,18 4,19 3,-23 3,24 4,6 3,-66 3,74 4,-40 3,-58 3,137 3,-109 4,69 3,-61 3,87 4,-129 3,61 3,3 4,-6 3,145 3,-181 3,44 4,24 3,93 3,-62 4,-42 3,62 3,-38 4,15 3,133 3,-135 3,38 4,23 3,-97 3,101 4,-59 3,-30 3,138 4,-17 3,41 3,-119 3,191 4,-13 3,-115 3,70 4,-37 3,53 3,-24 4,-10 3,-2 3,-50 3,-17 4,19 3,45 3,-53 4,12 3,-64 3,47 4,19 3,-38 3,-57 3,119 4,-55 3,-80 3,85 4,-67 3,37 3,-43 4,-77 3,59 3,126 3,-47 4,-62 3,-42 3,-39 4,25 3,53 3,12 4,20 3,-181 3,19 3,45 4,-80 3,57 3,-98 4,50 3,-86 3,82 4,-96 3,-31 3,29 3,-26 4,14 3,-7 0,0 3,-8 4,19 3,13 3,-61 4,9 3,87 3,51 3,-136 4,37 3,104 3,76 4,-139 3,87 3,97 4,-87 3,76 3,3 3,-24 4,-64 3,101 3,-8 4,46 3,-111 3,106 4,75 3,-106 3,-65 3,93 4,-90 3,85 3,33 4,-5 3,50 3,-89 4,43 3,21 3,-42 3,-5 4,44 3,-14 3,-15 4,-5 3,16 3,9 4,22 3,-121 3,62 3,10 4,80 3,-9 3,-77 4,-7 3,23 3,26 4,-58 3,-5 3,33 3,40 4,40 3,-19 3,-97 4,-24 3,139 3,-152 4,59 3,-18 3,74 3,-36 4,-7 3,7 3,-75 4,50 3,-17 3,72 4,-107 3,8 3,139 3,-109 4,43 3,-53 3,-14 4,-3 3,-68 3,-2 4,26 3,25 3,22 3,-51 4,23 3,-25 3,61 4,-62 3,37 3,-1 4,-73 3,67 3,-67 3,176 4,-131 3,27 3,-73 4,88 3,55 3,-54 4,-20 3,46 3,-5 3,38 4,-105 3,115 3,-57 4,57 3,-48 3,-26 4,74 3,-113 3,26 3,-44 4,99 3,-7 3,31 4,-151 3,66 3,-66 4,77 3,-67 3,-60 3,180 4,-60 3,32 3,-21 4,-44 3,-40 3,22 4,-38 3,-12 3,-118 3,131 4,-12 3,-68 3,57 4,-30 3,-75 3,94 4,-95 3,106 3,-23 3,-44 4,-69 3,37 3,3 4,-77 3,29 3,-31 4,-26 3,116 3,-84 3,-27 4,-35 3,102 3,-138 4,141 3,-28 3,-189 4,69 3,123 3,-98 3,-51 4,66 3,-64 3,32 4,-65 3,76 3,-4 4,-19 3,-96 3,8 3,-11 4,147 3,-184 3,56 4,-94 3,152 3,-151 4,51 3,30 3,-47 3,126 4,-89 3,46 3,-53 4,5 3,48 3,-44 4,-53 3,-21 3,145 3,-74 4,3 3,14 3,49 4,-63 3,-72 3,-12 4,74 3,-81 3,142 3,30 4,-187 3,92 3,-22 4,180 3,-151 3,123 4,36 3,-97 3,23 3,65 4,-181 3,100 3,15 4,-72 3,35 3,84 4,-7 3,-99 3,144 3,25 4,-2 3,-49 3,-53 4,61 3,20 3,9 4,-29 3,45 3,-36 3,-10 4,126 3,-70 3,-28 4,95 3,-23 3,-37 4,34 3,70 3,-103 3,79 4,54 3,-39 3,36 4,-127 3,68 3,123 4,-84 3,60 3,-80 3,38 4,20 3,34 3,-68 4,67 3,-104 3,-22 4,16 3,64 3,-17 3,-41 4,47 3,21 3,37 4,-31 3,-90 3,47 4,80 3,3 3,-117 3,49 4,-40 3,-3 3,10 4,33 3,-16 3,-37 4,-32 3,13 3,151 3,-101 4,93 3,-34 3,-40 4,-36 3,-91 3,91 4,85 3,-166 3,41 3,90 4,-67 3,57 3,-59 4,22 3,-30 3,-4 4,14 3,37 3,-34 3,-104 4,112 3,76 3,-89 4,-59 3,57 3,-62 4,138 3,-53 3,3 3,-31 4,45 3,-31 3,71 4,-33 3,-111 3,19 4,43 3,38 3,-43 3,-44 4,13 3,31 3,88 4,-126 3,17 3,51 4,-10 3,12 3,3 3,10 4,25 3,-72 3,92 4,-77 3,-18 3,-2 4,66 3,18 3,-95 3,82 4,-15 3,-64 3,46 4,37 3,52 3,-72 4,-34 3,-7 3,-7 3,85 4,-94 3,24 3,-25 4,45 3,20 3,25 4,15 3,-93 3,-29 3,91 4,-32 3,-18 3,-15 4,26 3,-71 3,21 4,23 3,24 3,8 3,-47 4,27 3,6 3,35 4,-12 3,-68 3,76 4,78 3,-187 3,113"/>
<g fill="#B000D4">
<path d="M618.3,580.4l21.5,37.6h-43.0z"/>
<path d="M876.4,580.4l21.5,37.6h-43.0z"/>
<path d="M1078.3,580.4l21.5,37.6h-43.0z"/>
<path d="M1258.1,580.4l21.5,37.6h-43.0z"/>
<path d="M1417.2,580.4l21.5,37.6h-43.0z"/>
<path d="M1562.8,580.4l21.5,37.6h-43.0z"/>
<path d="M1828.0,580.4l21.5,37.6h-43.0z"/>
<path d="M2086.0,580.4l21.5,37.6h-43.0z"/>
<path d="M616.5,1456.4l21.5,37.6h-43.0z"/>
<path d="M874.6,1456.4l21.5,37.6h-43.0z"/>
<path d="M1076.5,1456.4l21.5,37.6h-43.0z"/>
<path d="M1256.3,1456.4l21.5,37.6h-43.0z"/>
<path d="M1415.4,1456.4l21.5,37.6h-43.0z"/>
<path d="M1561.0,1456.4l21.5,37.6h-43.0z"/>
<path d="M1826.2,1456.4l21.5,37.6h-43.0z"/>
<path d="M2084.2,1456.4l21.5,37.6h-43.0z"/>
<path d="M613.3,2199.0l21.5,37.6h-43.0z"/>
<path d="M871.4,2199.0l21.5,37.6h-43.0z"/>
<path d="M1073.3,2199.0l21.5,37.6h-43.0z"/>
<path d="M1253.1,2199.0l21.5,37.6h-43.0z"/>
<path d="M1412.2,2199.0l21.5,37.6h-43.0z"/>
<path d="M1557.8,2199.0l21.5,37.6h-43.0z"/>
<path d="M1823.0,2199.0l21.5,37.6h-43.0z"/>
<path d="M2081.0,2199.0l21.5,37.6h-43.0z"/>
<path d="M1060.5,783.9l32.0,53.5h-64.0z"/>
</g><g fill="#000">
<path d="M816.5,422.0h37.5l-18.8,32.0z"/>
<path d="M1089.5,484.6h37.5l-18.8,32.0z"/>
<path d="M1342.2,494.7h37.5l-18.8,32.0z"/>
<path d="M820.6,1207.7h37.5l-18.8,32.0z"/>
<path d="M1093.8,1271.5h37.5l-18.8,32.0z"/>
<path d="M1346.5,1281.5h37.5l-18.8,32.0z"/>
<path d="M797.4,1767.9h37.5l-18.8,32.0z"/>
<path d="M1070.2,1830.6h37.5l-18.8,32.0z"/>
<path d="M1323.2,1841.0h37.5l-18.8,32.0z"/>
<path d="M1028.5,928.4h64.0l-32.0,53.0z"/>
</g>
<rect x="138.1" y="28.9" width="2140.2000000000003" height="2319.7" fill="none" stroke="#000" stroke-width="7.3" stroke-linejoin="round"/>
<path d="M271.7,2348.6V2312.5M405.5,2348.6V2331.3M539.3,2348.6V2312.5M673.0,2348.6V2331.3M806.8,2348.6V2312.5M940.6,2348.6V2331.3M1074.4,2348.6V2312.5M1208.2,2348.6V2331.3M1341.9,2348.6V2312.5M1475.7,2348.6V2331.3M1609.5,2348.6V2312.5M1743.3,2348.6V2331.3M1877.1,2348.6V2312.5M2010.8,2348.6V2331.3M2144.6,2348.6V2312.5" stroke="#000" stroke-width="7.3" stroke-linecap="round" fill="none"/>
<text transform="translate(271.7,2472.6) scale(1,0.975)" text-anchor="middle">10</text>
<text transform="translate(539.3,2472.6) scale(1,0.975)" text-anchor="middle">20</text>
<text transform="translate(806.8,2472.6) scale(1,0.975)" text-anchor="middle">30</text>
<text transform="translate(1074.4,2472.6) scale(1,0.975)" text-anchor="middle">40</text>
<text transform="translate(1341.9,2472.6) scale(1,0.975)" text-anchor="middle">50</text>
<text transform="translate(1609.5,2472.6) scale(1,0.975)" text-anchor="middle">60</text>
<text transform="translate(1877.1,2472.6) scale(1,0.975)" text-anchor="middle">70</text>
<text transform="translate(2144.6,2472.6) scale(1,0.975)" text-anchor="middle">80</text>
<text transform="translate(186.5,168.6) scale(1,0.975)">Reference cell</text>
<text transform="translate(187.5,877.7) scale(1,0.975)">Cell 2</text>
<text transform="translate(187.5,1648) scale(1,0.975)">Cell 3</text>
<text transform="translate(1127,842.5) scale(1,0.975)">Reflexes of the LSCF phase</text>
<text transform="translate(1127,987.8) scale(1,0.975)">Reflexes from the holder</text>
<text transform="translate(1061.5,2593.4) scale(1,0.975)">2Θ,deg</text>
<text transform="translate(959.3,1916.5) scale(1,0.975)" text-anchor="middle" font-size="91">?</text>
<text transform="translate(1691,1899) scale(1,0.975)" text-anchor="middle" font-size="91">?</text>
<text transform="translate(98.2,1190.9) rotate(-90) scale(1,0.975)" text-anchor="middle">Intensity, a.u.</text>
</svg></body></html>
